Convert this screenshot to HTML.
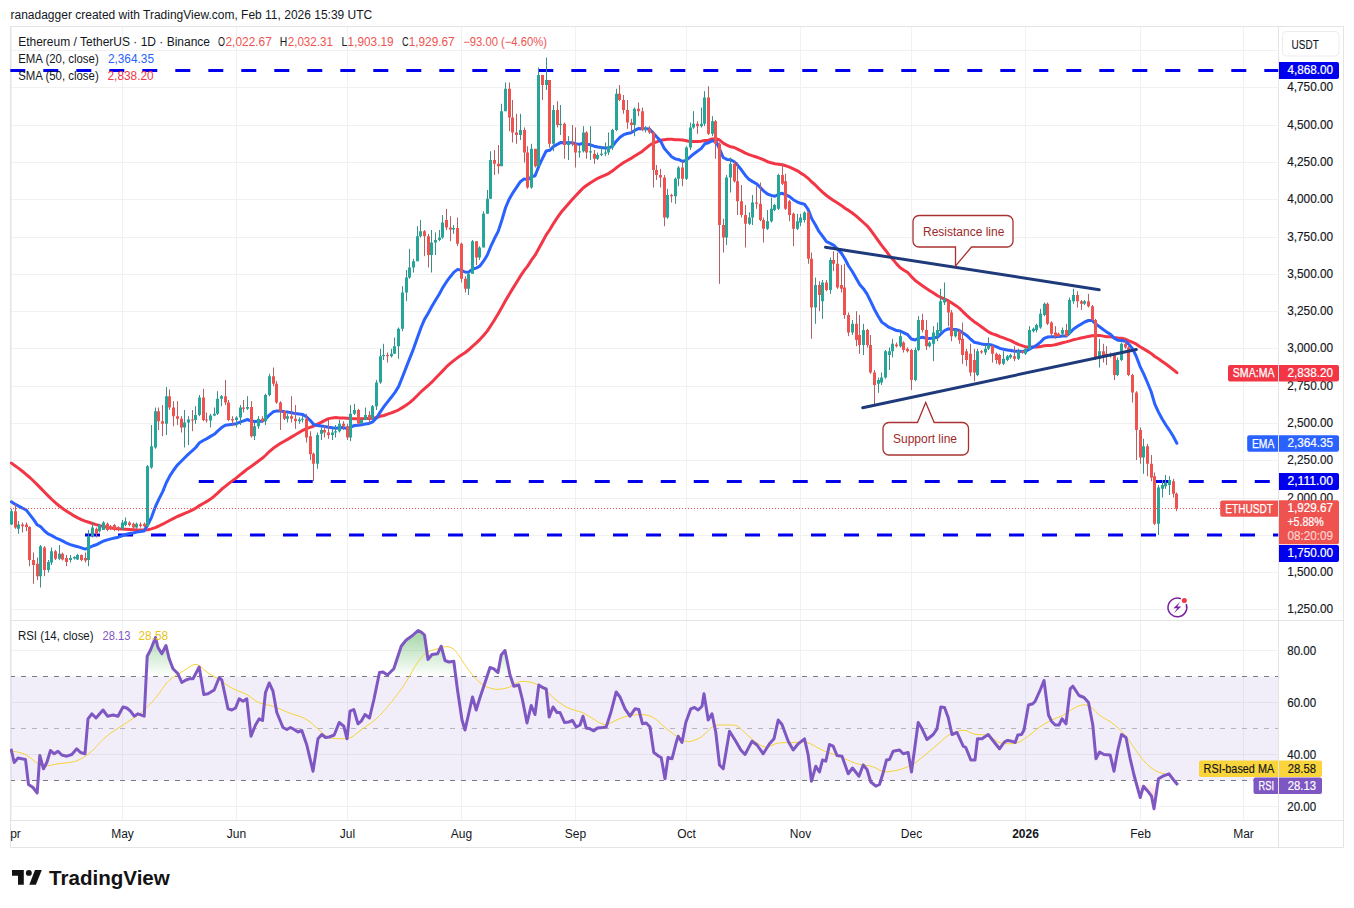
<!DOCTYPE html>
<html><head><meta charset="utf-8"><style>
html,body{margin:0;padding:0;background:#fff;width:1354px;height:908px;overflow:hidden}
svg{display:block}
text{font-family:"Liberation Sans", sans-serif}
</style></head><body>
<svg width="1354" height="908" viewBox="0 0 1354 908">
<defs>
<clipPath id="cp"><rect x="10" y="27" width="1268.5" height="593"/></clipPath>
<clipPath id="cr"><rect x="10" y="621" width="1268.5" height="199"/></clipPath>
<linearGradient id="gob" gradientUnits="userSpaceOnUse" x1="0" y1="624" x2="0" y2="676.5"><stop offset="0" stop-color="#4caf50" stop-opacity="0.6"/><stop offset="1" stop-color="#4caf50" stop-opacity="0"/></linearGradient>
<linearGradient id="gos" gradientUnits="userSpaceOnUse" x1="0" y1="780.5" x2="0" y2="820"><stop offset="0" stop-color="#f23645" stop-opacity="0"/><stop offset="1" stop-color="#f23645" stop-opacity="0.5"/></linearGradient>
<clipPath id="cax"><rect x="10.5" y="821" width="1268" height="27"/></clipPath>
</defs>
<rect width="1354" height="908" fill="#fff"/>

<text x="10.5" y="19" font-size="12" fill="#131722">ranadagger created with TradingView.com, Feb 11, 2026 15:39 UTC</text>
<path d="M11.5 27V820 M122.5 27V820 M236.5 27V820 M347.5 27V820 M461.5 27V820 M575.5 27V820 M686.5 27V820 M800.5 27V820 M911.5 27V820 M1025.5 27V820 M1140.5 27V820 M1243.5 27V820 M10 609.5H1278.5 M10 572.5H1278.5 M10 535.5H1278.5 M10 498.5H1278.5 M10 460.5H1278.5 M10 423.5H1278.5 M10 386.5H1278.5 M10 348.5H1278.5 M10 311.5H1278.5 M10 274.5H1278.5 M10 237.5H1278.5 M10 199.5H1278.5 M10 162.5H1278.5 M10 125.5H1278.5 M10 87.5H1278.5 M10 50.5H1278.5 M10 650.5H1278.5 M10 702.5H1278.5 M10 754.5H1278.5 M10 806.5H1278.5" stroke="#f1f1f1" stroke-width="1" fill="none"/>
<rect x="10" y="676.50" width="1268.5" height="104.00" fill="#7e57c2" fill-opacity="0.1"/>
<path d="M10 676.5H1278.5" stroke="#787b86" stroke-opacity="1" stroke-width="1" stroke-dasharray="5 6" fill="none"/>
<path d="M10 728.5H1278.5" stroke="#787b86" stroke-opacity="0.5" stroke-width="1" stroke-dasharray="5 6" fill="none"/>
<path d="M10 780.5H1278.5" stroke="#787b86" stroke-opacity="1" stroke-width="1" stroke-dasharray="5 6" fill="none"/>
<path d="M10.5 26.5H1343.5V847.5H10.5Z" stroke="#e4e4e4" stroke-width="1" fill="none"/>
<path d="M10 620.5H1343M10 820.5H1343M1278.5 27V847" stroke="#e4e4e4" stroke-width="1" fill="none"/>
<g clip-path="url(#cp)">
<path d="M10.3 70.5H1278.5" stroke="#0000ee" stroke-width="3" stroke-dasharray="15 18" fill="none"/>
<path d="M198.75 481.5H1278.5" stroke="#0000ee" stroke-width="3" stroke-dasharray="15 18" fill="none"/>
<path d="M85 535H1278.5" stroke="#0000ee" stroke-width="3" stroke-dasharray="15 18" fill="none"/>
<path d="M11.4 463.1 L15.0 465.7 L18.7 468.4 L22.4 471.3 L26.1 474.3 L29.8 477.5 L33.5 481.0 L37.2 484.6 L40.9 488.4 L44.6 492.2 L48.2 495.9 L51.9 499.5 L55.6 502.9 L59.3 506.0 L63.0 508.7 L66.7 511.2 L70.4 513.6 L74.1 515.9 L77.8 517.9 L81.4 519.7 L85.1 521.1 L88.8 522.3 L92.5 523.5 L96.2 524.6 L99.9 525.6 L103.6 526.5 L107.3 527.3 L110.9 527.9 L114.6 528.4 L118.3 528.8 L122.0 529.1 L125.7 529.3 L129.4 529.5 L133.1 529.7 L136.8 529.9 L140.5 530.0 L144.1 530.0 L147.8 529.7 L151.5 528.9 L155.2 527.6 L158.9 526.0 L162.6 524.2 L166.3 522.2 L170.0 520.2 L173.7 518.3 L177.3 516.5 L181.0 515.0 L184.7 513.4 L188.4 511.8 L192.1 510.1 L195.8 508.2 L199.5 505.6 L203.2 503.5 L206.9 501.4 L210.5 499.1 L214.2 496.2 L217.9 492.9 L221.6 489.3 L225.3 486.4 L229.0 483.4 L232.7 480.6 L236.4 477.9 L240.0 474.9 L243.7 472.0 L247.4 468.9 L251.1 466.4 L254.8 463.8 L258.5 461.0 L262.2 458.3 L265.9 455.0 L269.6 451.3 L273.2 448.3 L276.9 445.8 L280.6 443.3 L284.3 441.2 L288.0 439.1 L291.7 436.9 L295.4 434.7 L299.1 432.5 L302.8 430.3 L306.4 428.6 L310.1 427.3 L313.8 426.0 L317.5 424.2 L321.2 422.3 L324.9 420.4 L328.6 418.6 L332.3 417.9 L335.9 417.6 L339.6 417.9 L343.3 418.0 L347.0 418.3 L350.7 418.6 L354.4 418.7 L358.1 418.8 L361.8 418.8 L365.5 418.6 L369.1 418.5 L372.8 418.2 L376.5 417.5 L380.2 416.3 L383.9 415.5 L387.6 414.2 L391.3 412.9 L395.0 411.5 L398.7 409.8 L402.3 407.6 L406.0 405.3 L409.7 402.6 L413.4 399.4 L417.1 395.7 L420.8 392.0 L424.5 388.6 L428.2 385.5 L431.8 382.2 L435.5 378.3 L439.2 374.5 L442.9 370.6 L446.6 366.7 L450.3 363.4 L454.0 360.4 L457.7 357.6 L461.4 355.1 L465.0 352.7 L468.7 349.8 L472.4 346.3 L476.1 343.1 L479.8 339.6 L483.5 335.5 L487.2 331.1 L490.9 325.5 L494.6 319.7 L498.2 313.8 L501.9 307.3 L505.6 300.5 L509.3 294.2 L513.0 288.1 L516.7 282.2 L520.4 276.1 L524.1 270.7 L527.8 265.9 L531.4 260.2 L535.1 255.2 L538.8 248.5 L542.5 241.8 L546.2 234.9 L549.9 229.5 L553.6 223.3 L557.3 217.7 L560.9 212.6 L564.6 208.3 L568.3 204.1 L572.0 199.8 L575.7 195.8 L579.4 191.9 L583.1 188.0 L586.8 185.2 L590.5 182.7 L594.1 180.5 L597.8 178.3 L601.5 176.7 L605.2 175.1 L608.9 173.3 L612.6 170.8 L616.3 167.8 L620.0 165.1 L623.7 162.5 L627.3 160.5 L631.0 158.4 L634.7 156.0 L638.4 153.7 L642.1 151.4 L645.8 148.4 L649.5 145.3 L653.2 143.2 L656.8 141.9 L660.5 140.3 L664.2 139.7 L667.9 139.3 L671.6 139.3 L675.3 139.7 L679.0 139.7 L682.7 140.0 L686.4 140.7 L690.0 141.5 L693.7 141.6 L697.4 141.5 L701.1 141.2 L704.8 140.6 L708.5 140.2 L712.2 138.9 L715.9 138.8 L719.6 140.0 L723.2 143.2 L726.9 145.1 L730.6 146.8 L734.3 147.5 L738.0 149.3 L741.7 151.1 L745.4 153.1 L749.1 154.6 L752.7 155.8 L756.4 157.0 L760.1 158.3 L763.8 159.9 L767.5 161.7 L771.2 162.8 L774.9 163.8 L778.6 164.2 L782.3 164.8 L785.9 165.8 L789.6 167.1 L793.3 168.8 L797.0 170.6 L800.7 173.1 L804.4 175.3 L808.1 178.3 L811.8 182.0 L815.5 185.2 L819.1 188.9 L822.8 192.3 L826.5 195.5 L830.2 198.2 L833.9 200.8 L837.6 203.1 L841.3 205.4 L845.0 208.2 L848.6 210.4 L852.3 213.0 L856.0 215.9 L859.7 219.2 L863.4 222.5 L867.1 225.8 L870.8 230.3 L874.5 235.4 L878.2 240.6 L881.8 245.6 L885.5 250.2 L889.2 255.2 L892.9 259.4 L896.6 263.9 L900.3 267.8 L904.0 270.3 L907.7 272.6 L911.4 276.6 L915.0 280.3 L918.7 283.1 L922.4 285.7 L926.1 288.3 L929.8 290.7 L933.5 293.0 L937.2 295.5 L940.9 297.5 L944.6 299.1 L948.2 300.7 L951.9 303.0 L955.6 305.4 L959.3 308.1 L963.0 311.8 L966.7 315.3 L970.4 318.6 L974.1 321.7 L977.7 324.1 L981.4 326.8 L985.1 329.4 L988.8 332.1 L992.5 333.9 L996.2 335.0 L999.9 336.6 L1003.6 337.9 L1007.3 339.3 L1010.9 340.6 L1014.6 342.6 L1018.3 344.4 L1022.0 345.6 L1025.7 346.9 L1029.4 347.1 L1033.1 347.1 L1036.8 347.1 L1040.5 346.6 L1044.1 345.8 L1047.8 345.6 L1051.5 345.4 L1055.2 344.7 L1058.9 343.7 L1062.6 342.7 L1066.3 341.9 L1070.0 340.9 L1073.6 339.7 L1077.3 338.9 L1081.0 338.0 L1084.7 337.3 L1088.4 336.4 L1092.1 335.8 L1095.8 335.4 L1099.5 335.4 L1103.2 336.1 L1106.8 336.7 L1110.5 336.8 L1114.2 337.5 L1117.9 338.0 L1121.6 338.3 L1125.3 339.2 L1129.0 340.8 L1132.7 342.4 L1136.4 344.2 L1140.0 346.8 L1143.7 348.9 L1147.4 351.1 L1151.1 353.4 L1154.8 356.5 L1158.5 358.8 L1162.2 361.4 L1165.9 364.0 L1169.5 366.7 L1173.2 369.6 L1176.9 372.7" stroke="#f23645" stroke-width="3" fill="none" stroke-linejoin="round" stroke-linecap="round"/>
<path d="M11.4 501.8 L15.0 504.2 L18.7 506.1 L22.4 508.1 L26.1 509.9 L29.8 514.6 L33.5 519.4 L37.2 524.8 L40.9 526.9 L44.6 531.0 L48.2 533.9 L51.9 535.6 L55.6 537.8 L59.3 539.3 L63.0 541.2 L66.7 543.2 L70.4 544.6 L74.1 545.8 L77.8 546.7 L81.4 547.9 L85.1 549.1 L88.8 547.9 L92.5 546.0 L96.2 544.8 L99.9 542.9 L103.6 541.0 L107.3 539.9 L110.9 538.9 L114.6 538.0 L118.3 537.2 L122.0 535.8 L125.7 534.4 L129.4 533.5 L133.1 533.0 L136.8 532.1 L140.5 531.5 L144.1 531.0 L147.8 524.8 L151.5 517.3 L155.2 507.2 L158.9 499.1 L162.6 491.9 L166.3 482.8 L170.0 475.6 L173.7 470.0 L177.3 465.1 L181.0 461.5 L184.7 457.8 L188.4 454.1 L192.1 450.9 L195.8 447.5 L199.5 442.7 L203.2 440.5 L206.9 438.6 L210.5 436.4 L214.2 434.3 L217.9 430.9 L221.6 427.6 L225.3 425.2 L229.0 424.7 L232.7 424.3 L236.4 423.7 L240.0 422.1 L243.7 420.8 L247.4 419.5 L251.1 421.1 L254.8 421.6 L258.5 421.3 L262.2 421.3 L265.9 418.8 L269.6 414.8 L273.2 411.8 L276.9 410.9 L280.6 411.0 L284.3 411.7 L288.0 412.1 L291.7 412.8 L295.4 413.6 L299.1 414.1 L302.8 414.6 L306.4 416.8 L310.1 420.3 L313.8 424.5 L317.5 425.5 L321.2 425.9 L324.9 426.5 L328.6 427.3 L332.3 427.8 L335.9 428.2 L339.6 427.7 L343.3 427.6 L347.0 428.5 L350.7 427.1 L354.4 425.5 L358.1 425.3 L361.8 424.8 L365.5 423.9 L369.1 423.4 L372.8 421.8 L376.5 418.0 L380.2 412.1 L383.9 406.7 L387.6 401.9 L391.3 397.3 L395.0 392.4 L398.7 386.4 L402.3 377.4 L406.0 367.9 L409.7 358.4 L413.4 349.1 L417.1 338.4 L420.8 328.2 L424.5 319.4 L428.2 313.3 L431.8 306.5 L435.5 300.2 L439.2 294.2 L442.9 287.4 L446.6 281.7 L450.3 276.7 L454.0 272.1 L457.7 269.4 L461.4 270.3 L465.0 272.0 L468.7 272.2 L472.4 269.2 L476.1 268.1 L479.8 266.2 L483.5 261.2 L487.2 255.2 L490.9 246.2 L494.6 238.3 L498.2 231.4 L501.9 220.0 L505.6 207.5 L509.3 198.9 L513.0 192.6 L516.7 187.1 L520.4 181.7 L524.1 178.9 L527.8 179.7 L531.4 176.8 L535.1 175.8 L538.8 166.2 L542.5 158.4 L546.2 151.0 L549.9 150.3 L553.6 146.4 L557.3 144.4 L560.9 142.4 L564.6 142.7 L568.3 142.7 L572.0 142.8 L575.7 143.7 L579.4 144.4 L583.1 143.3 L586.8 144.2 L590.5 144.8 L594.1 146.2 L597.8 147.0 L601.5 147.6 L605.2 148.1 L608.9 147.9 L612.6 146.2 L616.3 141.2 L620.0 137.3 L623.7 134.7 L627.3 133.5 L631.0 132.7 L634.7 130.4 L638.4 128.6 L642.1 128.7 L645.8 128.7 L649.5 129.1 L653.2 133.0 L656.8 137.0 L660.5 140.9 L664.2 148.2 L667.9 152.6 L671.6 156.8 L675.3 158.9 L679.0 159.7 L682.7 161.5 L686.4 160.2 L690.0 157.1 L693.7 153.9 L697.4 151.3 L701.1 148.6 L704.8 143.8 L708.5 142.8 L712.2 140.8 L715.9 141.0 L719.6 149.0 L723.2 157.5 L726.9 159.4 L730.6 159.8 L734.3 161.8 L738.0 165.6 L741.7 170.3 L745.4 175.4 L749.1 179.4 L752.7 181.6 L756.4 183.7 L760.1 187.2 L763.8 191.1 L767.5 194.0 L771.2 195.4 L774.9 196.3 L778.6 194.3 L782.3 193.3 L785.9 194.8 L789.6 196.7 L793.3 199.7 L797.0 201.8 L800.7 203.3 L804.4 204.2 L808.1 209.4 L811.8 218.7 L815.5 225.0 L819.1 231.7 L822.8 236.5 L826.5 241.6 L830.2 243.4 L833.9 245.3 L837.6 249.3 L841.3 253.1 L845.0 259.0 L848.6 266.0 L852.3 271.5 L856.0 278.0 L859.7 284.4 L863.4 288.7 L867.1 294.1 L870.8 301.6 L874.5 309.5 L878.2 316.2 L881.8 322.1 L885.5 324.8 L889.2 327.4 L892.9 328.9 L896.6 330.6 L900.3 331.1 L904.0 332.9 L907.7 334.7 L911.4 339.0 L915.0 340.0 L918.7 338.1 L922.4 337.3 L926.1 338.2 L929.8 338.6 L933.5 338.0 L937.2 337.3 L940.9 333.8 L944.6 330.5 L948.2 328.8 L951.9 329.5 L955.6 329.5 L959.3 330.5 L963.0 332.9 L966.7 335.4 L970.4 339.0 L974.1 342.2 L977.7 343.0 L981.4 343.9 L985.1 344.4 L988.8 344.5 L992.5 345.3 L996.2 346.7 L999.9 348.4 L1003.6 349.3 L1007.3 350.0 L1010.9 350.5 L1014.6 351.3 L1018.3 351.3 L1022.0 351.4 L1025.7 351.1 L1029.4 349.1 L1033.1 347.2 L1036.8 345.1 L1040.5 342.1 L1044.1 338.4 L1047.8 337.0 L1051.5 336.7 L1055.2 336.7 L1058.9 336.6 L1062.6 336.0 L1066.3 336.0 L1070.0 332.6 L1073.6 329.0 L1077.3 326.4 L1081.0 324.2 L1084.7 322.0 L1088.4 320.5 L1092.1 320.5 L1095.8 324.1 L1099.5 326.7 L1103.2 329.5 L1106.8 332.1 L1110.5 334.2 L1114.2 338.1 L1117.9 340.2 L1121.6 340.5 L1125.3 341.2 L1129.0 344.4 L1132.7 349.0 L1136.4 356.7 L1140.0 366.3 L1143.7 373.9 L1147.4 382.5 L1151.1 391.5 L1154.8 404.1 L1158.5 412.1 L1162.2 419.0 L1165.9 425.0 L1169.5 430.3 L1173.2 436.3 L1176.9 443.2" stroke="#2962ff" stroke-width="3" fill="none" stroke-linejoin="round" stroke-linecap="round"/>
<path d="M11.5 508.8V525.0 M18.5 521.2V533.8 M40.5 545.0V587.5 M48.5 560.0V572.5 M51.5 547.5V565.0 M59.5 545.0V560.0 M70.5 555.0V562.5 M74.5 556.2V559.5 M77.5 553.8V560.0 M88.5 530.0V566.2 M92.5 522.5V537.5 M99.5 523.8V532.5 M103.5 521.2V530.0 M122.5 520.0V530.0 M125.5 517.5V526.2 M136.5 522.5V528.8 M147.5 465.0V527.5 M151.5 425.0V468.8 M155.5 407.5V448.8 M166.5 387.0V435.0 M184.5 410.0V447.5 M188.5 416.2V445.0 M195.5 406.2V423.8 M199.5 395.0V416.2 M210.5 413.8V427.5 M214.5 407.5V416.2 M217.5 391.2V415.0 M221.5 395.0V406.2 M236.5 416.2V427.5 M240.5 405.0V425.0 M247.5 396.2V410.0 M254.5 422.5V440.0 M258.5 416.2V428.8 M265.5 393.8V425.0 M269.5 373.8V396.2 M287.5 413.8V422.5 M299.5 417.5V423.8 M302.5 416.2V422.5 M317.5 432.5V468.8 M321.5 427.5V440.0 M332.5 428.8V440.0 M335.5 425.0V437.5 M339.5 420.0V432.5 M350.5 405.0V441.2 M354.5 403.8V415.0 M361.5 418.8V423.8 M365.5 407.5V420.0 M372.5 405.0V420.0 M376.5 380.0V410.0 M380.5 348.8V383.8 M383.5 343.8V360.0 M391.5 348.8V357.5 M394.5 337.5V353.8 M398.5 327.5V358.8 M402.5 286.2V331.2 M406.5 270.0V301.2 M409.5 248.8V278.8 M413.5 258.8V272.5 M417.5 226.2V261.2 M420.5 220.0V237.5 M431.5 230.0V272.5 M435.5 232.5V255.0 M439.5 230.0V241.2 M442.5 215.0V238.8 M453.5 225.0V233.8 M468.5 272.5V295.0 M472.5 240.0V273.8 M479.5 246.2V260.0 M483.5 211.2V247.5 M487.5 190.0V213.8 M490.5 151.2V198.8 M501.5 103.8V166.2 M505.5 82.5V111.2 M520.5 113.8V140.0 M531.5 143.8V188.8 M538.5 67.5V166.2 M546.5 57.5V90.0 M553.5 105.0V151.2 M560.5 105.0V135.0 M568.5 136.2V160.0 M579.5 145.0V157.5 M583.5 126.2V152.5 M590.5 126.2V160.0 M597.5 152.5V160.0 M601.5 146.2V156.2 M605.5 142.5V156.2 M608.5 132.5V155.0 M612.5 128.8V150.0 M616.5 88.8V131.2 M634.5 107.5V136.2 M645.5 126.2V132.5 M667.5 188.8V218.8 M675.5 177.5V203.8 M678.5 166.2V186.2 M686.5 146.2V180.0 M690.5 122.5V150.0 M693.5 111.2V128.8 M701.5 107.5V127.5 M704.5 91.2V126.2 M712.5 116.2V136.2 M726.5 175.0V245.0 M730.5 157.5V192.5 M749.5 212.5V225.0 M752.5 195.0V225.0 M767.5 210.0V230.0 M771.5 197.5V222.5 M774.5 203.8V211.2 M778.5 173.8V210.0 M797.5 213.8V230.0 M800.5 213.8V226.2 M804.5 211.2V222.5 M815.5 277.5V323.8 M822.5 280.0V318.8 M830.5 257.5V293.8 M852.5 320.0V335.0 M863.5 323.8V355.0 M878.5 377.5V392.8 M881.5 372.5V385.0 M885.5 350.0V378.8 M889.5 347.5V370.0 M892.5 338.8V357.5 M900.5 332.5V347.5 M915.5 347.5V381.2 M918.5 316.2V351.2 M929.5 341.2V347.5 M933.5 326.2V361.2 M937.5 322.5V341.2 M940.5 288.8V332.5 M944.5 282.5V305.0 M955.5 328.8V337.5 M977.5 348.8V376.2 M985.5 343.8V355.0 M988.5 337.5V350.0 M1003.5 351.2V365.0 M1007.5 355.0V361.2 M1010.5 353.8V358.8 M1018.5 348.8V360.0 M1025.5 347.5V355.0 M1029.5 326.2V350.0 M1033.5 327.5V332.5 M1036.5 323.8V332.5 M1040.5 308.8V328.8 M1044.5 302.5V316.2 M1062.5 327.5V336.2 M1069.5 297.5V335.0 M1073.5 288.8V303.8 M1084.5 300.0V305.0 M1099.5 338.8V367.5 M1110.5 352.5V357.5 M1117.5 357.5V376.2 M1121.5 342.5V361.2 M1143.5 438.8V473.8 M1158.5 485.0V535.0 M1162.5 480.0V497.5 M1165.5 475.0V488.8 M1169.5 476.2V495.0" stroke="#3a8f86" stroke-width="1" fill="none"/>
<path d="M15.5 504.2V528.8 M22.5 522.5V532.5 M26.5 522.5V531.2 M29.5 526.2V566.2 M33.5 552.5V583.8 M37.5 557.5V580.0 M44.5 546.2V576.2 M55.5 550.0V560.0 M62.5 552.5V560.5 M66.5 555.0V566.2 M81.5 554.5V561.2 M85.5 552.5V562.5 M96.5 527.5V537.5 M107.5 522.5V531.2 M110.5 525.0V530.0 M114.5 523.8V531.2 M118.5 526.2V531.2 M129.5 521.2V526.2 M133.5 522.5V528.8 M140.5 522.5V527.5 M144.5 522.5V527.5 M158.5 407.5V430.0 M162.5 405.0V436.2 M169.5 389.5V410.0 M173.5 401.2V426.2 M177.5 401.2V425.0 M181.5 416.2V432.5 M192.5 410.0V431.2 M203.5 388.8V421.2 M206.5 412.5V422.5 M225.5 380.0V405.0 M228.5 400.0V421.2 M232.5 416.2V426.2 M243.5 400.0V412.5 M251.5 401.2V437.5 M262.5 416.2V422.5 M273.5 367.5V386.2 M276.5 381.2V403.8 M280.5 401.2V430.0 M284.5 410.0V420.0 M291.5 396.2V422.5 M295.5 405.0V428.8 M306.5 413.8V442.5 M310.5 431.2V460.0 M313.5 452.5V481.2 M324.5 425.0V437.5 M328.5 420.0V438.8 M343.5 421.2V430.0 M347.5 423.8V440.0 M358.5 408.8V425.0 M369.5 411.2V422.5 M387.5 352.5V362.5 M424.5 230.0V256.2 M428.5 233.8V267.5 M446.5 208.8V230.0 M450.5 216.2V241.2 M457.5 217.5V246.2 M461.5 242.5V282.5 M465.5 276.2V292.5 M476.5 241.2V265.0 M494.5 150.0V175.0 M498.5 145.0V173.8 M509.5 82.5V131.2 M512.5 100.0V142.5 M516.5 113.8V143.8 M524.5 127.5V162.5 M527.5 146.2V188.8 M535.5 148.8V167.5 M542.5 75.0V100.0 M549.5 80.0V147.5 M557.5 101.2V127.5 M564.5 122.5V158.8 M572.5 125.0V146.2 M575.5 127.5V167.5 M586.5 131.2V158.8 M594.5 150.0V163.8 M619.5 85.0V101.2 M623.5 95.0V113.8 M627.5 100.0V128.8 M631.5 118.8V132.5 M638.5 102.5V116.2 M642.5 107.5V131.2 M649.5 126.2V133.8 M653.5 131.2V187.5 M656.5 165.0V180.0 M660.5 168.8V187.5 M664.5 175.0V226.2 M671.5 193.8V202.5 M682.5 161.2V186.2 M697.5 121.2V133.8 M708.5 86.2V135.0 M715.5 120.0V158.8 M719.5 142.5V283.8 M723.5 218.8V252.5 M734.5 161.2V182.5 M737.5 162.5V215.0 M741.5 185.0V217.5 M745.5 205.0V247.5 M756.5 186.2V208.8 M760.5 182.5V221.2 M763.5 217.5V242.5 M782.5 163.8V185.0 M785.5 173.8V210.0 M789.5 200.0V221.2 M793.5 212.5V246.2 M808.5 211.2V263.8 M811.5 252.5V338.8 M819.5 281.2V311.2 M826.5 280.0V291.2 M833.5 251.2V271.2 M837.5 252.5V288.8 M841.5 265.0V292.5 M844.5 263.8V318.8 M848.5 312.5V336.2 M856.5 311.2V346.2 M859.5 315.0V353.8 M867.5 328.8V347.5 M870.5 335.0V373.8 M874.5 370.0V406.0 M896.5 342.5V347.5 M903.5 341.2V352.5 M907.5 347.5V352.5 M911.5 348.8V390.0 M922.5 313.8V332.5 M926.5 320.0V350.0 M948.5 300.0V326.2 M951.5 310.0V341.2 M959.5 328.8V343.8 M962.5 322.5V363.8 M966.5 348.8V366.2 M970.5 343.8V376.2 M974.5 348.8V381.2 M981.5 350.0V353.8 M992.5 345.0V362.5 M996.5 352.5V363.8 M999.5 353.8V365.0 M1014.5 346.2V361.2 M1022.5 350.0V353.8 M1047.5 302.5V325.0 M1051.5 321.2V336.2 M1055.5 326.2V338.8 M1058.5 332.5V337.5 M1066.5 323.8V337.5 M1077.5 291.2V307.5 M1081.5 300.0V310.0 M1088.5 293.8V307.5 M1092.5 305.0V321.2 M1095.5 318.8V360.0 M1103.5 343.8V362.5 M1106.5 346.2V365.0 M1114.5 353.8V380.0 M1125.5 341.2V348.8 M1128.5 346.2V376.2 M1132.5 373.8V402.5 M1136.5 391.2V460.0 M1140.5 427.5V463.8 M1147.5 443.8V476.2 M1151.5 455.0V481.2 M1154.5 472.5V525.0 M1173.5 478.8V497.5 M1176.5 492.5V511.2" stroke="#b35f66" stroke-width="1" fill="none"/>
<path d="M10.0 511.2h3v13.2h-3Z M17.0 524.5h3v4.2h-3Z M39.0 546.2h3v30.0h-3Z M47.0 562.0h3v8.0h-3Z M50.0 551.2h3v11.2h-3Z M58.0 553.8h3v5.0h-3Z M69.0 558.0h3v2.0h-3Z M73.0 557.0h3v1.5h-3Z M76.0 555.0h3v4.5h-3Z M87.0 536.2h3v23.8h-3Z M91.0 527.5h3v8.8h-3Z M98.0 525.0h3v6.2h-3Z M102.0 522.5h3v7.5h-3Z M121.0 522.5h3v6.2h-3Z M124.0 521.2h3v3.8h-3Z M135.0 523.8h3v3.8h-3Z M146.0 466.2h3v60.0h-3Z M150.0 446.2h3v21.2h-3Z M154.0 411.2h3v36.2h-3Z M165.0 396.2h3v27.5h-3Z M183.0 422.5h3v5.0h-3Z M187.0 419.5h3v3.0h-3Z M194.0 415.0h3v5.0h-3Z M198.0 397.5h3v17.5h-3Z M209.0 415.5h3v5.0h-3Z M213.0 413.8h3v1.8h-3Z M216.0 398.8h3v15.0h-3Z M220.0 396.2h3v2.5h-3Z M235.0 417.5h3v2.5h-3Z M239.0 407.5h3v10.0h-3Z M246.0 407.0h3v1.8h-3Z M253.0 426.2h3v10.0h-3Z M257.0 418.8h3v7.5h-3Z M264.0 395.0h3v26.2h-3Z M268.0 376.2h3v18.8h-3Z M286.0 416.2h3v2.5h-3Z M298.0 419.5h3v1.8h-3Z M301.0 418.8h3v1.0h-3Z M316.0 435.0h3v28.8h-3Z M320.0 430.0h3v3.8h-3Z M331.0 432.5h3v2.5h-3Z M334.0 431.2h3v1.2h-3Z M338.0 423.8h3v7.5h-3Z M349.0 413.8h3v23.8h-3Z M353.0 410.0h3v3.8h-3Z M360.0 420.0h3v3.8h-3Z M364.0 415.0h3v5.0h-3Z M371.0 406.2h3v12.5h-3Z M375.0 382.5h3v23.8h-3Z M379.0 356.2h3v26.2h-3Z M382.0 355.0h3v1.2h-3Z M390.0 353.8h3v2.5h-3Z M393.0 346.2h3v7.5h-3Z M397.0 328.8h3v17.5h-3Z M401.0 292.5h3v36.2h-3Z M405.0 277.5h3v15.0h-3Z M408.0 267.5h3v10.0h-3Z M412.0 261.2h3v6.2h-3Z M416.0 236.2h3v25.0h-3Z M419.0 231.2h3v5.0h-3Z M430.0 242.5h3v12.5h-3Z M434.0 240.0h3v2.5h-3Z M438.0 237.5h3v2.5h-3Z M441.0 222.5h3v15.0h-3Z M452.0 228.0h3v1.5h-3Z M467.0 273.8h3v15.0h-3Z M471.0 241.2h3v32.5h-3Z M478.0 247.5h3v10.0h-3Z M482.0 213.8h3v33.8h-3Z M486.0 198.8h3v15.0h-3Z M489.0 160.0h3v38.8h-3Z M500.0 111.2h3v55.0h-3Z M504.0 88.8h3v22.5h-3Z M519.0 130.0h3v5.0h-3Z M530.0 148.8h3v38.8h-3Z M537.0 75.0h3v91.2h-3Z M545.0 80.0h3v5.0h-3Z M552.0 110.0h3v33.8h-3Z M559.0 123.8h3v1.2h-3Z M567.0 142.5h3v2.5h-3Z M578.0 151.2h3v1.2h-3Z M582.0 132.5h3v18.8h-3Z M589.0 151.2h3v1.2h-3Z M596.0 155.0h3v3.8h-3Z M600.0 153.8h3v1.2h-3Z M604.0 152.5h3v1.2h-3Z M607.0 146.2h3v6.2h-3Z M611.0 130.0h3v17.5h-3Z M615.0 93.8h3v36.2h-3Z M633.0 108.8h3v16.2h-3Z M644.0 128.8h3v1.2h-3Z M666.0 195.0h3v22.5h-3Z M674.0 178.8h3v17.5h-3Z M677.0 167.5h3v11.2h-3Z M685.0 147.5h3v31.2h-3Z M689.0 127.5h3v20.0h-3Z M692.0 123.8h3v3.8h-3Z M700.0 123.8h3v2.5h-3Z M703.0 97.5h3v26.2h-3Z M711.0 121.2h3v12.5h-3Z M725.0 177.5h3v60.0h-3Z M729.0 163.8h3v13.8h-3Z M748.0 217.5h3v6.2h-3Z M751.0 202.5h3v15.0h-3Z M766.0 221.2h3v7.5h-3Z M770.0 208.8h3v12.5h-3Z M773.0 205.0h3v5.0h-3Z M777.0 175.0h3v33.8h-3Z M796.0 221.2h3v7.5h-3Z M799.0 217.5h3v5.0h-3Z M803.0 212.5h3v7.5h-3Z M814.0 285.0h3v22.5h-3Z M821.0 282.5h3v18.8h-3Z M829.0 260.0h3v30.0h-3Z M851.0 323.8h3v8.8h-3Z M862.0 330.0h3v15.0h-3Z M877.0 380.0h3v3.8h-3Z M880.0 377.5h3v5.0h-3Z M884.0 351.2h3v26.2h-3Z M888.0 351.2h3v3.8h-3Z M891.0 343.8h3v7.5h-3Z M899.0 336.2h3v10.0h-3Z M914.0 350.0h3v30.0h-3Z M917.0 320.0h3v30.0h-3Z M928.0 342.5h3v3.8h-3Z M932.0 332.5h3v11.2h-3Z M936.0 330.0h3v6.2h-3Z M939.0 301.2h3v30.0h-3Z M943.0 298.8h3v3.8h-3Z M954.0 330.0h3v6.2h-3Z M976.0 351.2h3v23.8h-3Z M984.0 348.8h3v3.8h-3Z M987.0 345.0h3v3.8h-3Z M1002.0 358.8h3v5.0h-3Z M1006.0 356.2h3v3.8h-3Z M1009.0 355.0h3v2.5h-3Z M1017.0 351.2h3v7.5h-3Z M1024.0 348.8h3v5.0h-3Z M1028.0 330.0h3v18.8h-3Z M1032.0 328.8h3v2.5h-3Z M1035.0 325.0h3v5.0h-3Z M1039.0 313.8h3v13.8h-3Z M1043.0 303.8h3v11.2h-3Z M1061.0 330.0h3v3.8h-3Z M1068.0 300.0h3v33.8h-3Z M1072.0 295.0h3v6.2h-3Z M1083.0 301.2h3v2.5h-3Z M1098.0 351.2h3v7.5h-3Z M1109.0 354.5h3v1.8h-3Z M1116.0 360.0h3v15.0h-3Z M1120.0 343.8h3v16.2h-3Z M1142.0 446.2h3v11.2h-3Z M1157.0 487.5h3v36.2h-3Z M1161.0 485.0h3v3.8h-3Z M1164.0 482.5h3v3.8h-3Z M1168.0 480.0h3v5.0h-3Z" fill="#26a69a"/>
<path d="M14.0 511.2h3v16.2h-3Z M21.0 524.5h3v1.8h-3Z M25.0 524.5h3v2.5h-3Z M28.0 527.0h3v33.0h-3Z M32.0 560.0h3v5.0h-3Z M36.0 563.8h3v12.5h-3Z M43.0 547.5h3v22.5h-3Z M54.0 551.2h3v7.5h-3Z M61.0 553.8h3v5.8h-3Z M65.0 558.0h3v4.0h-3Z M80.0 555.0h3v5.0h-3Z M84.0 558.0h3v2.5h-3Z M95.0 528.8h3v5.0h-3Z M106.0 523.8h3v6.2h-3Z M109.0 526.2h3v2.5h-3Z M113.0 525.0h3v5.0h-3Z M117.0 527.5h3v2.0h-3Z M128.0 522.5h3v2.5h-3Z M132.0 523.8h3v3.8h-3Z M139.0 524.5h3v1.5h-3Z M143.0 523.8h3v2.5h-3Z M157.0 411.2h3v10.0h-3Z M161.0 421.2h3v2.5h-3Z M168.0 396.2h3v11.2h-3Z M172.0 407.5h3v8.8h-3Z M176.0 416.2h3v2.5h-3Z M180.0 418.8h3v8.8h-3Z M191.0 419.5h3v1.0h-3Z M202.0 397.5h3v22.5h-3Z M205.0 419.5h3v1.0h-3Z M224.0 396.2h3v6.2h-3Z M227.0 402.5h3v17.5h-3Z M231.0 419.0h3v1.5h-3Z M242.0 407.5h3v1.2h-3Z M250.0 407.0h3v29.2h-3Z M261.0 418.8h3v2.5h-3Z M272.0 376.2h3v7.5h-3Z M275.0 383.8h3v18.8h-3Z M279.0 402.5h3v8.8h-3Z M283.0 411.2h3v7.5h-3Z M290.0 416.2h3v2.5h-3Z M294.0 418.8h3v2.5h-3Z M305.0 418.8h3v18.8h-3Z M309.0 436.2h3v18.0h-3Z M312.0 453.8h3v10.0h-3Z M323.0 430.0h3v2.5h-3Z M327.0 432.5h3v2.5h-3Z M342.0 423.8h3v2.5h-3Z M346.0 426.2h3v11.2h-3Z M357.0 410.0h3v13.8h-3Z M368.0 415.0h3v3.8h-3Z M386.0 355.0h3v1.2h-3Z M423.0 231.2h3v5.0h-3Z M427.0 236.2h3v18.8h-3Z M445.0 220.0h3v7.5h-3Z M449.0 227.5h3v2.0h-3Z M456.0 228.0h3v15.8h-3Z M460.0 243.8h3v35.0h-3Z M464.0 278.8h3v10.0h-3Z M475.0 241.2h3v16.2h-3Z M493.0 160.0h3v3.8h-3Z M497.0 163.8h3v2.5h-3Z M508.0 88.8h3v28.8h-3Z M511.0 117.5h3v15.0h-3Z M515.0 132.5h3v2.5h-3Z M523.0 130.0h3v22.5h-3Z M526.0 152.5h3v35.0h-3Z M534.0 148.8h3v17.5h-3Z M541.0 75.0h3v10.0h-3Z M548.0 80.0h3v63.8h-3Z M556.0 110.0h3v15.0h-3Z M563.0 123.8h3v21.2h-3Z M571.0 142.5h3v1.2h-3Z M574.0 143.8h3v8.8h-3Z M585.0 132.5h3v20.0h-3Z M593.0 153.8h3v5.0h-3Z M618.0 93.8h3v6.2h-3Z M622.0 100.0h3v10.0h-3Z M626.0 110.0h3v12.5h-3Z M630.0 122.5h3v2.5h-3Z M637.0 108.8h3v2.5h-3Z M641.0 111.2h3v18.8h-3Z M648.0 128.8h3v3.8h-3Z M652.0 132.5h3v37.5h-3Z M655.0 170.0h3v5.0h-3Z M659.0 175.0h3v2.5h-3Z M663.0 177.5h3v40.0h-3Z M670.0 195.0h3v1.2h-3Z M681.0 167.5h3v11.2h-3Z M696.0 123.8h3v2.5h-3Z M707.0 97.5h3v36.2h-3Z M714.0 121.2h3v22.5h-3Z M718.0 143.8h3v81.2h-3Z M722.0 225.0h3v12.5h-3Z M733.0 163.8h3v17.5h-3Z M736.0 181.2h3v20.0h-3Z M740.0 201.2h3v13.8h-3Z M744.0 215.0h3v8.8h-3Z M755.0 202.5h3v1.2h-3Z M759.0 203.8h3v16.2h-3Z M762.0 220.0h3v8.8h-3Z M781.0 175.0h3v8.8h-3Z M784.0 181.2h3v27.5h-3Z M788.0 201.2h3v13.8h-3Z M792.0 213.8h3v15.0h-3Z M807.0 212.5h3v46.2h-3Z M810.0 258.8h3v48.8h-3Z M818.0 285.0h3v10.0h-3Z M825.0 282.5h3v7.5h-3Z M832.0 260.0h3v3.8h-3Z M836.0 263.8h3v23.8h-3Z M840.0 285.0h3v3.8h-3Z M843.0 287.5h3v27.5h-3Z M847.0 315.0h3v17.5h-3Z M855.0 323.8h3v16.2h-3Z M858.0 335.0h3v10.0h-3Z M866.0 330.0h3v15.0h-3Z M869.0 345.0h3v27.5h-3Z M873.0 372.5h3v12.5h-3Z M895.0 344.5h3v1.8h-3Z M902.0 342.5h3v7.5h-3Z M906.0 348.8h3v2.5h-3Z M910.0 350.0h3v30.0h-3Z M921.0 320.0h3v10.0h-3Z M925.0 330.0h3v16.2h-3Z M947.0 301.2h3v11.2h-3Z M950.0 312.5h3v23.8h-3Z M958.0 331.2h3v8.8h-3Z M961.0 338.8h3v16.2h-3Z M965.0 351.2h3v8.8h-3Z M969.0 353.8h3v18.8h-3Z M973.0 360.0h3v12.5h-3Z M980.0 351.2h3v1.2h-3Z M991.0 346.2h3v7.5h-3Z M995.0 353.8h3v6.2h-3Z M998.0 355.0h3v8.8h-3Z M1013.0 356.2h3v2.5h-3Z M1021.0 351.2h3v1.2h-3Z M1046.0 303.8h3v20.0h-3Z M1050.0 322.5h3v11.2h-3Z M1054.0 332.5h3v3.8h-3Z M1057.0 333.8h3v2.5h-3Z M1065.0 330.0h3v6.2h-3Z M1076.0 295.0h3v6.2h-3Z M1080.0 301.2h3v2.5h-3Z M1087.0 301.2h3v5.0h-3Z M1091.0 306.2h3v13.8h-3Z M1094.0 320.0h3v38.8h-3Z M1102.0 351.2h3v5.0h-3Z M1105.0 353.8h3v2.5h-3Z M1113.0 355.0h3v20.0h-3Z M1124.0 343.8h3v3.8h-3Z M1127.0 347.5h3v27.5h-3Z M1131.0 375.0h3v17.5h-3Z M1135.0 392.5h3v37.5h-3Z M1139.0 430.0h3v27.5h-3Z M1146.0 446.2h3v17.5h-3Z M1150.0 463.8h3v13.8h-3Z M1153.0 476.2h3v47.5h-3Z M1172.0 481.2h3v12.5h-3Z M1175.0 493.8h3v15.0h-3Z" fill="#ef5350"/>
<path d="M825.5 247.2L1099.2 289.7M862.7 407.7L1136.3 349.5" stroke="#1e3a7b" stroke-width="3" stroke-linecap="round" fill="none"/>
<path d="M10 508.5H1278.5" stroke="#ef5350" stroke-width="1" stroke-dasharray="1 2" fill="none"/>
</g>
<path d="M919 215.5H1007a6 6 0 0 1 6 6V241a6 6 0 0 1 -6 6H971.5L955.5 266V247H919a6 6 0 0 1 -6 -6V221.5a6 6 0 0 1 6 -6Z" fill="#fff" stroke="#a83232" stroke-width="1.3"/>
<text x="923" y="235.5" font-size="12" fill="#9c2b2b">Resistance line</text>
<path d="M889 422.5H917.5L925.7 402.5L934.2 422.5H962.5a6 6 0 0 1 6 6V449a6 6 0 0 1 -6 6H889a6 6 0 0 1 -6 -6V428.5a6 6 0 0 1 6 -6Z" fill="#fff" stroke="#a83232" stroke-width="1.3"/>
<text x="893" y="443" font-size="12" fill="#9c2b2b">Support line</text>
<g clip-path="url(#cr)">
<clipPath id="cob"><rect x="10" y="600" width="1270" height="76.5"/></clipPath>
<clipPath id="cos"><rect x="10" y="780.5" width="1270" height="59.5"/></clipPath>
<path clip-path="url(#cob)" d="M11.0 676.5 L11.0 748.8 L14.2 762.5 L18.0 758.0 L25.5 759.5 L28.5 784.5 L33.0 787.5 L37.2 793.0 L39.8 755.5 L43.5 768.8 L46.8 762.5 L50.5 750.5 L54.2 753.8 L58.0 751.2 L61.8 755.0 L66.8 756.2 L71.8 754.5 L76.8 748.8 L80.5 752.5 L85.0 753.8 L88.0 718.8 L91.8 713.8 L96.0 718.0 L103.0 710.0 L107.5 716.2 L113.0 715.0 L118.0 716.2 L123.0 707.0 L126.8 708.0 L130.5 711.2 L134.2 716.2 L138.0 713.8 L144.2 716.2 L147.2 656.2 L150.5 650.0 L155.5 637.5 L158.0 647.5 L161.8 653.8 L166.0 645.5 L169.2 658.8 L173.0 668.8 L178.0 673.8 L181.8 682.5 L186.0 680.0 L189.2 678.8 L193.0 678.8 L199.2 667.0 L203.8 694.5 L208.0 693.8 L214.2 690.0 L219.2 677.5 L221.8 680.0 L228.0 708.8 L231.8 710.0 L235.5 708.0 L239.2 698.8 L243.0 701.2 L246.8 698.8 L251.0 736.2 L255.5 725.0 L259.2 718.8 L262.5 720.5 L265.5 692.5 L269.2 683.0 L273.0 691.2 L276.8 712.5 L283.0 727.5 L286.8 729.5 L290.5 727.5 L294.2 729.5 L298.0 732.0 L301.8 730.5 L306.8 745.0 L313.0 771.2 L318.0 738.8 L321.8 734.5 L325.5 737.5 L329.2 737.0 L334.2 735.0 L339.2 722.5 L343.8 726.2 L347.0 738.8 L350.0 711.2 L353.8 709.5 L358.0 723.8 L361.2 721.2 L365.0 714.5 L369.5 718.0 L373.8 700.0 L379.5 672.5 L383.0 672.0 L387.5 675.0 L393.8 668.8 L401.2 646.2 L406.2 640.0 L412.5 635.5 L418.0 630.5 L421.2 632.0 L424.5 635.0 L428.0 659.5 L432.0 654.5 L437.5 653.8 L441.2 646.2 L445.0 660.5 L448.8 662.0 L453.8 661.2 L457.5 690.0 L462.0 720.0 L465.0 730.0 L472.5 697.0 L476.2 710.0 L480.0 697.5 L483.8 686.2 L490.0 667.5 L493.8 668.8 L498.0 672.5 L501.2 655.0 L505.0 650.5 L510.0 675.0 L513.8 686.2 L518.8 685.0 L522.5 700.0 L527.0 723.0 L531.2 705.5 L535.0 714.5 L538.8 685.0 L542.5 687.5 L546.2 688.8 L549.2 717.0 L553.0 707.0 L557.0 712.5 L560.0 712.5 L564.5 722.5 L568.8 722.0 L572.5 720.5 L576.2 727.0 L580.0 725.0 L583.0 716.2 L586.2 728.0 L590.0 728.8 L593.8 730.8 L597.5 728.0 L602.5 727.5 L606.2 727.0 L611.2 711.2 L616.2 692.0 L620.0 697.0 L625.0 708.8 L630.0 716.2 L635.0 708.8 L638.8 709.5 L642.5 723.8 L646.2 723.0 L650.0 727.0 L653.8 752.5 L658.8 756.2 L661.2 757.5 L665.0 778.8 L668.0 757.5 L672.0 758.8 L676.2 742.5 L678.2 736.2 L682.0 742.5 L685.8 722.5 L690.8 708.8 L694.5 707.5 L698.2 710.0 L702.0 706.2 L704.0 693.8 L708.2 720.0 L712.0 713.8 L715.8 732.5 L719.5 765.0 L723.2 768.8 L729.5 731.2 L735.8 741.2 L740.8 750.0 L745.0 754.5 L752.0 741.2 L757.0 745.0 L763.2 753.8 L769.5 743.8 L774.0 738.8 L778.2 720.0 L782.0 724.5 L788.2 741.2 L793.2 750.0 L798.2 743.8 L804.5 738.8 L808.2 755.0 L811.5 781.2 L815.8 766.2 L819.5 772.0 L822.5 760.0 L825.8 761.2 L829.5 744.5 L833.2 746.2 L837.0 755.5 L842.0 756.2 L848.2 773.8 L852.5 768.0 L859.0 776.2 L863.2 765.0 L867.0 769.5 L870.8 782.0 L875.8 786.2 L879.5 784.5 L883.2 772.5 L886.5 760.0 L889.5 759.5 L893.2 751.2 L899.5 750.0 L903.2 753.8 L908.2 752.5 L911.5 772.0 L918.2 722.5 L922.0 728.8 L927.0 739.5 L933.2 734.5 L937.0 728.8 L940.8 707.0 L944.5 707.5 L948.2 717.5 L952.0 734.5 L957.0 732.5 L963.2 746.2 L965.8 747.5 L970.8 760.0 L975.0 760.0 L977.5 738.8 L982.0 738.8 L988.2 734.5 L994.5 742.5 L999.5 748.8 L1004.0 742.5 L1005.8 741.2 L1007.8 740.5 L1011.5 741.2 L1015.2 742.5 L1017.8 735.0 L1021.5 734.5 L1024.0 730.0 L1028.5 705.0 L1032.8 703.8 L1035.2 701.2 L1040.2 690.0 L1044.0 680.5 L1048.5 715.0 L1051.5 721.2 L1055.2 725.0 L1059.0 725.0 L1062.0 718.8 L1066.0 723.8 L1070.2 688.8 L1072.8 686.2 L1079.0 695.5 L1084.0 697.5 L1088.5 702.5 L1092.8 725.0 L1096.0 758.8 L1099.5 752.0 L1104.0 754.5 L1110.2 755.0 L1114.0 771.2 L1117.8 750.0 L1121.5 734.5 L1126.0 737.5 L1130.2 758.8 L1134.0 775.0 L1140.2 797.5 L1143.5 786.2 L1147.8 791.2 L1151.5 796.2 L1154.0 808.8 L1158.5 778.8 L1162.8 776.2 L1169.0 773.8 L1173.2 779.5 L1177.8 785.0 L1177.8 676.5Z" fill="url(#gob)"/>
<path clip-path="url(#cos)" d="M11.0 780.5 L11.0 748.8 L14.2 762.5 L18.0 758.0 L25.5 759.5 L28.5 784.5 L33.0 787.5 L37.2 793.0 L39.8 755.5 L43.5 768.8 L46.8 762.5 L50.5 750.5 L54.2 753.8 L58.0 751.2 L61.8 755.0 L66.8 756.2 L71.8 754.5 L76.8 748.8 L80.5 752.5 L85.0 753.8 L88.0 718.8 L91.8 713.8 L96.0 718.0 L103.0 710.0 L107.5 716.2 L113.0 715.0 L118.0 716.2 L123.0 707.0 L126.8 708.0 L130.5 711.2 L134.2 716.2 L138.0 713.8 L144.2 716.2 L147.2 656.2 L150.5 650.0 L155.5 637.5 L158.0 647.5 L161.8 653.8 L166.0 645.5 L169.2 658.8 L173.0 668.8 L178.0 673.8 L181.8 682.5 L186.0 680.0 L189.2 678.8 L193.0 678.8 L199.2 667.0 L203.8 694.5 L208.0 693.8 L214.2 690.0 L219.2 677.5 L221.8 680.0 L228.0 708.8 L231.8 710.0 L235.5 708.0 L239.2 698.8 L243.0 701.2 L246.8 698.8 L251.0 736.2 L255.5 725.0 L259.2 718.8 L262.5 720.5 L265.5 692.5 L269.2 683.0 L273.0 691.2 L276.8 712.5 L283.0 727.5 L286.8 729.5 L290.5 727.5 L294.2 729.5 L298.0 732.0 L301.8 730.5 L306.8 745.0 L313.0 771.2 L318.0 738.8 L321.8 734.5 L325.5 737.5 L329.2 737.0 L334.2 735.0 L339.2 722.5 L343.8 726.2 L347.0 738.8 L350.0 711.2 L353.8 709.5 L358.0 723.8 L361.2 721.2 L365.0 714.5 L369.5 718.0 L373.8 700.0 L379.5 672.5 L383.0 672.0 L387.5 675.0 L393.8 668.8 L401.2 646.2 L406.2 640.0 L412.5 635.5 L418.0 630.5 L421.2 632.0 L424.5 635.0 L428.0 659.5 L432.0 654.5 L437.5 653.8 L441.2 646.2 L445.0 660.5 L448.8 662.0 L453.8 661.2 L457.5 690.0 L462.0 720.0 L465.0 730.0 L472.5 697.0 L476.2 710.0 L480.0 697.5 L483.8 686.2 L490.0 667.5 L493.8 668.8 L498.0 672.5 L501.2 655.0 L505.0 650.5 L510.0 675.0 L513.8 686.2 L518.8 685.0 L522.5 700.0 L527.0 723.0 L531.2 705.5 L535.0 714.5 L538.8 685.0 L542.5 687.5 L546.2 688.8 L549.2 717.0 L553.0 707.0 L557.0 712.5 L560.0 712.5 L564.5 722.5 L568.8 722.0 L572.5 720.5 L576.2 727.0 L580.0 725.0 L583.0 716.2 L586.2 728.0 L590.0 728.8 L593.8 730.8 L597.5 728.0 L602.5 727.5 L606.2 727.0 L611.2 711.2 L616.2 692.0 L620.0 697.0 L625.0 708.8 L630.0 716.2 L635.0 708.8 L638.8 709.5 L642.5 723.8 L646.2 723.0 L650.0 727.0 L653.8 752.5 L658.8 756.2 L661.2 757.5 L665.0 778.8 L668.0 757.5 L672.0 758.8 L676.2 742.5 L678.2 736.2 L682.0 742.5 L685.8 722.5 L690.8 708.8 L694.5 707.5 L698.2 710.0 L702.0 706.2 L704.0 693.8 L708.2 720.0 L712.0 713.8 L715.8 732.5 L719.5 765.0 L723.2 768.8 L729.5 731.2 L735.8 741.2 L740.8 750.0 L745.0 754.5 L752.0 741.2 L757.0 745.0 L763.2 753.8 L769.5 743.8 L774.0 738.8 L778.2 720.0 L782.0 724.5 L788.2 741.2 L793.2 750.0 L798.2 743.8 L804.5 738.8 L808.2 755.0 L811.5 781.2 L815.8 766.2 L819.5 772.0 L822.5 760.0 L825.8 761.2 L829.5 744.5 L833.2 746.2 L837.0 755.5 L842.0 756.2 L848.2 773.8 L852.5 768.0 L859.0 776.2 L863.2 765.0 L867.0 769.5 L870.8 782.0 L875.8 786.2 L879.5 784.5 L883.2 772.5 L886.5 760.0 L889.5 759.5 L893.2 751.2 L899.5 750.0 L903.2 753.8 L908.2 752.5 L911.5 772.0 L918.2 722.5 L922.0 728.8 L927.0 739.5 L933.2 734.5 L937.0 728.8 L940.8 707.0 L944.5 707.5 L948.2 717.5 L952.0 734.5 L957.0 732.5 L963.2 746.2 L965.8 747.5 L970.8 760.0 L975.0 760.0 L977.5 738.8 L982.0 738.8 L988.2 734.5 L994.5 742.5 L999.5 748.8 L1004.0 742.5 L1005.8 741.2 L1007.8 740.5 L1011.5 741.2 L1015.2 742.5 L1017.8 735.0 L1021.5 734.5 L1024.0 730.0 L1028.5 705.0 L1032.8 703.8 L1035.2 701.2 L1040.2 690.0 L1044.0 680.5 L1048.5 715.0 L1051.5 721.2 L1055.2 725.0 L1059.0 725.0 L1062.0 718.8 L1066.0 723.8 L1070.2 688.8 L1072.8 686.2 L1079.0 695.5 L1084.0 697.5 L1088.5 702.5 L1092.8 725.0 L1096.0 758.8 L1099.5 752.0 L1104.0 754.5 L1110.2 755.0 L1114.0 771.2 L1117.8 750.0 L1121.5 734.5 L1126.0 737.5 L1130.2 758.8 L1134.0 775.0 L1140.2 797.5 L1143.5 786.2 L1147.8 791.2 L1151.5 796.2 L1154.0 808.8 L1158.5 778.8 L1162.8 776.2 L1169.0 773.8 L1173.2 779.5 L1177.8 785.0 L1177.8 780.5Z" fill="url(#gos)"/>
<path d="M11.0 751.31 L12.0 751.36 L13.0 751.43 L14.0 751.52 L15.0 751.63 L16.0 751.77 L17.0 751.94 L18.0 752.14 L19.0 752.36 L20.0 752.59 L21.0 752.86 L22.0 753.16 L23.0 753.51 L24.0 753.92 L25.0 754.39 L26.0 754.93 L27.0 755.53 L28.0 756.19 L29.0 756.89 L30.0 757.63 L31.0 758.40 L32.0 759.19 L33.0 759.99 L34.0 760.79 L35.0 761.57 L36.0 762.33 L37.0 763.06 L38.0 763.74 L39.0 764.35 L40.0 764.88 L41.0 765.30 L42.0 765.62 L43.0 765.84 L44.0 765.96 L45.0 765.99 L46.0 765.94 L47.0 765.83 L48.0 765.68 L49.0 765.51 L50.0 765.32 L51.0 765.13 L52.0 764.92 L53.0 764.72 L54.0 764.51 L55.0 764.32 L56.0 764.14 L57.0 763.97 L58.0 763.81 L59.0 763.67 L60.0 763.54 L61.0 763.42 L62.0 763.31 L63.0 763.21 L64.0 763.11 L65.0 763.01 L66.0 762.91 L67.0 762.80 L68.0 762.69 L69.0 762.57 L70.0 762.43 L71.0 762.27 L72.0 762.09 L73.0 761.87 L74.0 761.62 L75.0 761.33 L76.0 761.00 L77.0 760.63 L78.0 760.22 L79.0 759.77 L80.0 759.29 L81.0 758.78 L82.0 758.24 L83.0 757.67 L84.0 757.08 L85.0 756.45 L86.0 755.78 L87.0 755.08 L88.0 754.33 L89.0 753.54 L90.0 752.71 L91.0 751.82 L92.0 750.89 L93.0 749.93 L94.0 748.93 L95.0 747.91 L96.0 746.88 L97.0 745.82 L98.0 744.77 L99.0 743.71 L100.0 742.66 L101.0 741.62 L102.0 740.60 L103.0 739.60 L104.0 738.64 L105.0 737.71 L106.0 736.81 L107.0 735.96 L108.0 735.13 L109.0 734.35 L110.0 733.59 L111.0 732.87 L112.0 732.17 L113.0 731.49 L114.0 730.82 L115.0 730.17 L116.0 729.52 L117.0 728.87 L118.0 728.23 L119.0 727.59 L120.0 726.94 L121.0 726.30 L122.0 725.65 L123.0 725.00 L124.0 724.35 L125.0 723.70 L126.0 723.05 L127.0 722.40 L128.0 721.76 L129.0 721.11 L130.0 720.47 L131.0 719.83 L132.0 719.18 L133.0 718.53 L134.0 717.87 L135.0 717.20 L136.0 716.51 L137.0 715.81 L138.0 715.09 L139.0 714.35 L140.0 713.59 L141.0 712.80 L142.0 711.98 L143.0 711.13 L144.0 710.25 L145.0 709.34 L146.0 708.39 L147.0 707.41 L148.0 706.40 L149.0 705.36 L150.0 704.28 L151.0 703.19 L152.0 702.06 L153.0 700.92 L154.0 699.76 L155.0 698.58 L156.0 697.36 L157.0 696.10 L158.0 694.80 L159.0 693.46 L160.0 692.08 L161.0 690.68 L162.0 689.26 L163.0 687.85 L164.0 686.46 L165.0 685.14 L166.0 683.88 L167.0 682.71 L168.0 681.63 L169.0 680.63 L170.0 679.72 L171.0 678.89 L172.0 678.12 L173.0 677.39 L174.0 676.70 L175.0 676.04 L176.0 675.41 L177.0 674.79 L178.0 674.18 L179.0 673.59 L180.0 672.99 L181.0 672.39 L182.0 671.78 L183.0 671.16 L184.0 670.51 L185.0 669.85 L186.0 669.18 L187.0 668.51 L188.0 667.83 L189.0 667.17 L190.0 666.54 L191.0 665.95 L192.0 665.43 L193.0 664.98 L194.0 664.65 L195.0 664.46 L196.0 664.43 L197.0 664.59 L198.0 664.93 L199.0 665.44 L200.0 666.10 L201.0 666.89 L202.0 667.76 L203.0 668.67 L204.0 669.59 L205.0 670.47 L206.0 671.31 L207.0 672.09 L208.0 672.80 L209.0 673.46 L210.0 674.07 L211.0 674.67 L212.0 675.25 L213.0 675.83 L214.0 676.41 L215.0 677.00 L216.0 677.59 L217.0 678.20 L218.0 678.83 L219.0 679.47 L220.0 680.13 L221.0 680.80 L222.0 681.49 L223.0 682.19 L224.0 682.89 L225.0 683.60 L226.0 684.29 L227.0 684.98 L228.0 685.65 L229.0 686.30 L230.0 686.93 L231.0 687.52 L232.0 688.09 L233.0 688.62 L234.0 689.12 L235.0 689.60 L236.0 690.04 L237.0 690.46 L238.0 690.86 L239.0 691.25 L240.0 691.63 L241.0 692.01 L242.0 692.40 L243.0 692.79 L244.0 693.21 L245.0 693.65 L246.0 694.14 L247.0 694.67 L248.0 695.26 L249.0 695.91 L250.0 696.61 L251.0 697.35 L252.0 698.11 L253.0 698.90 L254.0 699.66 L255.0 700.38 L256.0 701.05 L257.0 701.65 L258.0 702.19 L259.0 702.65 L260.0 703.05 L261.0 703.38 L262.0 703.67 L263.0 703.93 L264.0 704.16 L265.0 704.39 L266.0 704.61 L267.0 704.82 L268.0 705.04 L269.0 705.27 L270.0 705.51 L271.0 705.77 L272.0 706.04 L273.0 706.35 L274.0 706.67 L275.0 707.02 L276.0 707.39 L277.0 707.78 L278.0 708.18 L279.0 708.60 L280.0 709.04 L281.0 709.47 L282.0 709.92 L283.0 710.36 L284.0 710.79 L285.0 711.22 L286.0 711.64 L287.0 712.05 L288.0 712.44 L289.0 712.81 L290.0 713.18 L291.0 713.52 L292.0 713.86 L293.0 714.19 L294.0 714.51 L295.0 714.83 L296.0 715.14 L297.0 715.47 L298.0 715.80 L299.0 716.14 L300.0 716.50 L301.0 716.87 L302.0 717.27 L303.0 717.69 L304.0 718.16 L305.0 718.66 L306.0 719.22 L307.0 719.82 L308.0 720.47 L309.0 721.18 L310.0 721.94 L311.0 722.74 L312.0 723.58 L313.0 724.46 L314.0 725.35 L315.0 726.26 L316.0 727.18 L317.0 728.09 L318.0 729.00 L319.0 729.93 L320.0 730.87 L321.0 731.81 L322.0 732.74 L323.0 733.64 L324.0 734.48 L325.0 735.24 L326.0 735.94 L327.0 736.54 L328.0 737.05 L329.0 737.46 L330.0 737.78 L331.0 738.02 L332.0 738.19 L333.0 738.33 L334.0 738.45 L335.0 738.54 L336.0 738.61 L337.0 738.66 L338.0 738.70 L339.0 738.73 L340.0 738.74 L341.0 738.75 L342.0 738.75 L343.0 738.75 L344.0 738.75 L345.0 738.73 L346.0 738.67 L347.0 738.57 L348.0 738.40 L349.0 738.16 L350.0 737.83 L351.0 737.42 L352.0 736.91 L353.0 736.31 L354.0 735.63 L355.0 734.88 L356.0 734.09 L357.0 733.27 L358.0 732.44 L359.0 731.61 L360.0 730.80 L361.0 730.01 L362.0 729.25 L363.0 728.51 L364.0 727.80 L365.0 727.11 L366.0 726.44 L367.0 725.77 L368.0 725.09 L369.0 724.41 L370.0 723.72 L371.0 723.00 L372.0 722.26 L373.0 721.50 L374.0 720.70 L375.0 719.86 L376.0 718.99 L377.0 718.08 L378.0 717.13 L379.0 716.15 L380.0 715.13 L381.0 714.08 L382.0 713.00 L383.0 711.90 L384.0 710.77 L385.0 709.63 L386.0 708.47 L387.0 707.30 L388.0 706.12 L389.0 704.93 L390.0 703.72 L391.0 702.51 L392.0 701.28 L393.0 700.04 L394.0 698.78 L395.0 697.51 L396.0 696.22 L397.0 694.92 L398.0 693.59 L399.0 692.24 L400.0 690.87 L401.0 689.47 L402.0 688.05 L403.0 686.59 L404.0 685.09 L405.0 683.55 L406.0 681.95 L407.0 680.31 L408.0 678.62 L409.0 676.90 L410.0 675.14 L411.0 673.37 L412.0 671.61 L413.0 669.88 L414.0 668.19 L415.0 666.55 L416.0 664.96 L417.0 663.43 L418.0 661.95 L419.0 660.54 L420.0 659.20 L421.0 657.94 L422.0 656.77 L423.0 655.69 L424.0 654.72 L425.0 653.85 L426.0 653.09 L427.0 652.44 L428.0 651.88 L429.0 651.41 L430.0 651.00 L431.0 650.64 L432.0 650.32 L433.0 650.01 L434.0 649.71 L435.0 649.42 L436.0 649.14 L437.0 648.84 L438.0 648.55 L439.0 648.25 L440.0 647.95 L441.0 647.66 L442.0 647.37 L443.0 647.11 L444.0 646.89 L445.0 646.72 L446.0 646.63 L447.0 646.63 L448.0 646.73 L449.0 646.93 L450.0 647.23 L451.0 647.64 L452.0 648.16 L453.0 648.82 L454.0 649.63 L455.0 650.58 L456.0 651.68 L457.0 652.90 L458.0 654.23 L459.0 655.65 L460.0 657.14 L461.0 658.69 L462.0 660.26 L463.0 661.83 L464.0 663.37 L465.0 664.87 L466.0 666.32 L467.0 667.74 L468.0 669.13 L469.0 670.47 L470.0 671.78 L471.0 673.04 L472.0 674.27 L473.0 675.45 L474.0 676.60 L475.0 677.71 L476.0 678.78 L477.0 679.81 L478.0 680.81 L479.0 681.76 L480.0 682.65 L481.0 683.47 L482.0 684.22 L483.0 684.89 L484.0 685.50 L485.0 686.04 L486.0 686.53 L487.0 686.97 L488.0 687.36 L489.0 687.71 L490.0 688.03 L491.0 688.33 L492.0 688.59 L493.0 688.82 L494.0 689.01 L495.0 689.16 L496.0 689.27 L497.0 689.32 L498.0 689.34 L499.0 689.31 L500.0 689.23 L501.0 689.12 L502.0 688.97 L503.0 688.79 L504.0 688.59 L505.0 688.36 L506.0 688.11 L507.0 687.84 L508.0 687.52 L509.0 687.14 L510.0 686.71 L511.0 686.22 L512.0 685.68 L513.0 685.09 L514.0 684.47 L515.0 683.85 L516.0 683.25 L517.0 682.73 L518.0 682.28 L519.0 681.92 L520.0 681.66 L521.0 681.50 L522.0 681.42 L523.0 681.41 L524.0 681.46 L525.0 681.53 L526.0 681.63 L527.0 681.73 L528.0 681.85 L529.0 681.99 L530.0 682.14 L531.0 682.33 L532.0 682.56 L533.0 682.83 L534.0 683.16 L535.0 683.54 L536.0 683.99 L537.0 684.50 L538.0 685.07 L539.0 685.70 L540.0 686.37 L541.0 687.06 L542.0 687.78 L543.0 688.53 L544.0 689.30 L545.0 690.09 L546.0 690.91 L547.0 691.76 L548.0 692.63 L549.0 693.53 L550.0 694.45 L551.0 695.39 L552.0 696.33 L553.0 697.26 L554.0 698.17 L555.0 699.06 L556.0 699.90 L557.0 700.72 L558.0 701.50 L559.0 702.25 L560.0 702.96 L561.0 703.65 L562.0 704.31 L563.0 704.95 L564.0 705.57 L565.0 706.16 L566.0 706.72 L567.0 707.24 L568.0 707.74 L569.0 708.19 L570.0 708.62 L571.0 709.00 L572.0 709.36 L573.0 709.69 L574.0 709.99 L575.0 710.28 L576.0 710.56 L577.0 710.83 L578.0 711.11 L579.0 711.41 L580.0 711.73 L581.0 712.08 L582.0 712.46 L583.0 712.89 L584.0 713.35 L585.0 713.86 L586.0 714.41 L587.0 714.99 L588.0 715.59 L589.0 716.22 L590.0 716.86 L591.0 717.49 L592.0 718.13 L593.0 718.76 L594.0 719.39 L595.0 720.02 L596.0 720.65 L597.0 721.27 L598.0 721.87 L599.0 722.45 L600.0 723.00 L601.0 723.49 L602.0 723.90 L603.0 724.22 L604.0 724.42 L605.0 724.51 L606.0 724.49 L607.0 724.34 L608.0 724.09 L609.0 723.75 L610.0 723.33 L611.0 722.85 L612.0 722.35 L613.0 721.82 L614.0 721.30 L615.0 720.79 L616.0 720.30 L617.0 719.83 L618.0 719.38 L619.0 718.96 L620.0 718.55 L621.0 718.17 L622.0 717.80 L623.0 717.44 L624.0 717.10 L625.0 716.78 L626.0 716.49 L627.0 716.22 L628.0 715.98 L629.0 715.77 L630.0 715.59 L631.0 715.42 L632.0 715.28 L633.0 715.16 L634.0 715.05 L635.0 714.95 L636.0 714.86 L637.0 714.77 L638.0 714.70 L639.0 714.65 L640.0 714.61 L641.0 714.60 L642.0 714.62 L643.0 714.67 L644.0 714.76 L645.0 714.89 L646.0 715.07 L647.0 715.28 L648.0 715.54 L649.0 715.83 L650.0 716.16 L651.0 716.55 L652.0 716.99 L653.0 717.50 L654.0 718.07 L655.0 718.72 L656.0 719.43 L657.0 720.21 L658.0 721.05 L659.0 721.95 L660.0 722.87 L661.0 723.80 L662.0 724.72 L663.0 725.63 L664.0 726.52 L665.0 727.39 L666.0 728.24 L667.0 729.06 L668.0 729.86 L669.0 730.65 L670.0 731.42 L671.0 732.19 L672.0 732.94 L673.0 733.69 L674.0 734.41 L675.0 735.12 L676.0 735.81 L677.0 736.50 L678.0 737.19 L679.0 737.86 L680.0 738.52 L681.0 739.16 L682.0 739.75 L683.0 740.29 L684.0 740.75 L685.0 741.12 L686.0 741.40 L687.0 741.57 L688.0 741.64 L689.0 741.61 L690.0 741.49 L691.0 741.29 L692.0 741.04 L693.0 740.74 L694.0 740.39 L695.0 740.02 L696.0 739.62 L697.0 739.20 L698.0 738.74 L699.0 738.24 L700.0 737.68 L701.0 737.05 L702.0 736.35 L703.0 735.57 L704.0 734.72 L705.0 733.80 L706.0 732.81 L707.0 731.78 L708.0 730.74 L709.0 729.72 L710.0 728.76 L711.0 727.88 L712.0 727.13 L713.0 726.50 L714.0 725.99 L715.0 725.61 L716.0 725.33 L717.0 725.15 L718.0 725.05 L719.0 725.01 L720.0 725.00 L721.0 725.00 L722.0 725.00 L723.0 725.00 L724.0 725.00 L725.0 725.00 L726.0 725.00 L727.0 725.00 L728.0 725.00 L729.0 725.00 L730.0 725.00 L731.0 725.00 L732.0 725.00 L733.0 725.03 L734.0 725.11 L735.0 725.28 L736.0 725.56 L737.0 725.95 L738.0 726.47 L739.0 727.12 L740.0 727.90 L741.0 728.81 L742.0 729.80 L743.0 730.82 L744.0 731.85 L745.0 732.86 L746.0 733.84 L747.0 734.79 L748.0 735.70 L749.0 736.57 L750.0 737.42 L751.0 738.24 L752.0 739.05 L753.0 739.87 L754.0 740.68 L755.0 741.47 L756.0 742.25 L757.0 742.99 L758.0 743.70 L759.0 744.36 L760.0 744.97 L761.0 745.51 L762.0 746.00 L763.0 746.40 L764.0 746.72 L765.0 746.93 L766.0 747.02 L767.0 746.99 L768.0 746.84 L769.0 746.58 L770.0 746.22 L771.0 745.79 L772.0 745.31 L773.0 744.82 L774.0 744.37 L775.0 743.96 L776.0 743.61 L777.0 743.33 L778.0 743.11 L779.0 742.97 L780.0 742.87 L781.0 742.82 L782.0 742.78 L783.0 742.75 L784.0 742.72 L785.0 742.69 L786.0 742.66 L787.0 742.64 L788.0 742.61 L789.0 742.58 L790.0 742.55 L791.0 742.52 L792.0 742.48 L793.0 742.44 L794.0 742.40 L795.0 742.36 L796.0 742.31 L797.0 742.26 L798.0 742.21 L799.0 742.17 L800.0 742.13 L801.0 742.10 L802.0 742.08 L803.0 742.09 L804.0 742.14 L805.0 742.24 L806.0 742.38 L807.0 742.59 L808.0 742.85 L809.0 743.18 L810.0 743.57 L811.0 744.02 L812.0 744.51 L813.0 745.04 L814.0 745.59 L815.0 746.16 L816.0 746.74 L817.0 747.32 L818.0 747.88 L819.0 748.42 L820.0 748.94 L821.0 749.43 L822.0 749.90 L823.0 750.35 L824.0 750.77 L825.0 751.18 L826.0 751.57 L827.0 751.95 L828.0 752.33 L829.0 752.71 L830.0 753.08 L831.0 753.44 L832.0 753.81 L833.0 754.17 L834.0 754.54 L835.0 754.90 L836.0 755.27 L837.0 755.63 L838.0 756.00 L839.0 756.38 L840.0 756.76 L841.0 757.15 L842.0 757.54 L843.0 757.95 L844.0 758.37 L845.0 758.80 L846.0 759.24 L847.0 759.69 L848.0 760.14 L849.0 760.59 L850.0 761.04 L851.0 761.48 L852.0 761.91 L853.0 762.32 L854.0 762.72 L855.0 763.09 L856.0 763.43 L857.0 763.74 L858.0 764.02 L859.0 764.27 L860.0 764.49 L861.0 764.69 L862.0 764.86 L863.0 765.00 L864.0 765.14 L865.0 765.27 L866.0 765.39 L867.0 765.52 L868.0 765.65 L869.0 765.80 L870.0 765.99 L871.0 766.22 L872.0 766.50 L873.0 766.84 L874.0 767.24 L875.0 767.69 L876.0 768.18 L877.0 768.72 L878.0 769.27 L879.0 769.81 L880.0 770.31 L881.0 770.75 L882.0 771.11 L883.0 771.40 L884.0 771.61 L885.0 771.73 L886.0 771.79 L887.0 771.78 L888.0 771.72 L889.0 771.62 L890.0 771.50 L891.0 771.36 L892.0 771.21 L893.0 771.05 L894.0 770.87 L895.0 770.68 L896.0 770.48 L897.0 770.25 L898.0 770.01 L899.0 769.75 L900.0 769.48 L901.0 769.18 L902.0 768.88 L903.0 768.55 L904.0 768.21 L905.0 767.85 L906.0 767.48 L907.0 767.10 L908.0 766.70 L909.0 766.28 L910.0 765.83 L911.0 765.35 L912.0 764.83 L913.0 764.26 L914.0 763.65 L915.0 762.99 L916.0 762.29 L917.0 761.55 L918.0 760.77 L919.0 759.97 L920.0 759.16 L921.0 758.35 L922.0 757.53 L923.0 756.70 L924.0 755.88 L925.0 755.07 L926.0 754.25 L927.0 753.42 L928.0 752.59 L929.0 751.75 L930.0 750.91 L931.0 750.07 L932.0 749.22 L933.0 748.38 L934.0 747.53 L935.0 746.68 L936.0 745.81 L937.0 744.93 L938.0 744.04 L939.0 743.13 L940.0 742.21 L941.0 741.30 L942.0 740.38 L943.0 739.47 L944.0 738.59 L945.0 737.75 L946.0 736.97 L947.0 736.25 L948.0 735.58 L949.0 734.97 L950.0 734.42 L951.0 733.91 L952.0 733.44 L953.0 733.00 L954.0 732.60 L955.0 732.21 L956.0 731.85 L957.0 731.51 L958.0 731.20 L959.0 730.93 L960.0 730.69 L961.0 730.50 L962.0 730.37 L963.0 730.32 L964.0 730.37 L965.0 730.51 L966.0 730.75 L967.0 731.07 L968.0 731.48 L969.0 731.94 L970.0 732.43 L971.0 732.90 L972.0 733.34 L973.0 733.72 L974.0 734.04 L975.0 734.28 L976.0 734.46 L977.0 734.58 L978.0 734.65 L979.0 734.69 L980.0 734.73 L981.0 734.76 L982.0 734.79 L983.0 734.83 L984.0 734.88 L985.0 734.97 L986.0 735.13 L987.0 735.36 L988.0 735.68 L989.0 736.09 L990.0 736.59 L991.0 737.18 L992.0 737.86 L993.0 738.59 L994.0 739.35 L995.0 740.10 L996.0 740.79 L997.0 741.42 L998.0 741.98 L999.0 742.46 L1000.0 742.85 L1001.0 743.15 L1002.0 743.36 L1003.0 743.51 L1004.0 743.61 L1005.0 743.68 L1006.0 743.72 L1007.0 743.74 L1008.0 743.75 L1009.0 743.75 L1010.0 743.75 L1011.0 743.74 L1012.0 743.71 L1013.0 743.65 L1014.0 743.54 L1015.0 743.38 L1016.0 743.16 L1017.0 742.86 L1018.0 742.50 L1019.0 742.06 L1020.0 741.56 L1021.0 741.00 L1022.0 740.40 L1023.0 739.78 L1024.0 739.14 L1025.0 738.47 L1026.0 737.79 L1027.0 737.08 L1028.0 736.35 L1029.0 735.60 L1030.0 734.83 L1031.0 734.04 L1032.0 733.22 L1033.0 732.38 L1034.0 731.54 L1035.0 730.72 L1036.0 729.91 L1037.0 729.11 L1038.0 728.35 L1039.0 727.61 L1040.0 726.89 L1041.0 726.20 L1042.0 725.53 L1043.0 724.88 L1044.0 724.25 L1045.0 723.63 L1046.0 723.04 L1047.0 722.45 L1048.0 721.89 L1049.0 721.35 L1050.0 720.83 L1051.0 720.34 L1052.0 719.87 L1053.0 719.42 L1054.0 719.00 L1055.0 718.59 L1056.0 718.21 L1057.0 717.83 L1058.0 717.45 L1059.0 717.07 L1060.0 716.68 L1061.0 716.26 L1062.0 715.81 L1063.0 715.32 L1064.0 714.78 L1065.0 714.19 L1066.0 713.55 L1067.0 712.88 L1068.0 712.18 L1069.0 711.46 L1070.0 710.74 L1071.0 710.05 L1072.0 709.38 L1073.0 708.75 L1074.0 708.16 L1075.0 707.61 L1076.0 707.10 L1077.0 706.63 L1078.0 706.20 L1079.0 705.82 L1080.0 705.49 L1081.0 705.21 L1082.0 705.01 L1083.0 704.89 L1084.0 704.85 L1085.0 704.90 L1086.0 705.03 L1087.0 705.25 L1088.0 705.57 L1089.0 706.00 L1090.0 706.55 L1091.0 707.21 L1092.0 707.98 L1093.0 708.84 L1094.0 709.77 L1095.0 710.76 L1096.0 711.77 L1097.0 712.76 L1098.0 713.72 L1099.0 714.62 L1100.0 715.45 L1101.0 716.20 L1102.0 716.88 L1103.0 717.50 L1104.0 718.09 L1105.0 718.66 L1106.0 719.23 L1107.0 719.80 L1108.0 720.38 L1109.0 720.99 L1110.0 721.62 L1111.0 722.29 L1112.0 722.98 L1113.0 723.72 L1114.0 724.48 L1115.0 725.28 L1116.0 726.11 L1117.0 726.97 L1118.0 727.86 L1119.0 728.78 L1120.0 729.74 L1121.0 730.72 L1122.0 731.75 L1123.0 732.83 L1124.0 733.97 L1125.0 735.16 L1126.0 736.40 L1127.0 737.70 L1128.0 739.05 L1129.0 740.45 L1130.0 741.88 L1131.0 743.34 L1132.0 744.79 L1133.0 746.24 L1134.0 747.67 L1135.0 749.09 L1136.0 750.48 L1137.0 751.86 L1138.0 753.22 L1139.0 754.55 L1140.0 755.87 L1141.0 757.16 L1142.0 758.43 L1143.0 759.68 L1144.0 760.88 L1145.0 762.03 L1146.0 763.13 L1147.0 764.16 L1148.0 765.13 L1149.0 766.04 L1150.0 766.90 L1151.0 767.70 L1152.0 768.44 L1153.0 769.14 L1154.0 769.79 L1155.0 770.40 L1156.0 770.95 L1157.0 771.45 L1158.0 771.90 L1159.0 772.30 L1160.0 772.64 L1161.0 772.95 L1162.0 773.22 L1163.0 773.46 L1164.0 773.70 L1165.0 773.94 L1166.0 774.21 L1167.0 774.54 L1168.0 774.94 L1169.0 775.44 L1170.0 776.04 L1171.0 776.77 L1172.0 777.62 L1173.0 778.59 L1174.0 779.53 L1175.0 780.40 L1176.0 781.20 L1177.0 781.90" stroke="#f5d33a" stroke-width="1" fill="none"/>
<path d="M11.0 748.8 L14.2 762.5 L18.0 758.0 L25.5 759.5 L28.5 784.5 L33.0 787.5 L37.2 793.0 L39.8 755.5 L43.5 768.8 L46.8 762.5 L50.5 750.5 L54.2 753.8 L58.0 751.2 L61.8 755.0 L66.8 756.2 L71.8 754.5 L76.8 748.8 L80.5 752.5 L85.0 753.8 L88.0 718.8 L91.8 713.8 L96.0 718.0 L103.0 710.0 L107.5 716.2 L113.0 715.0 L118.0 716.2 L123.0 707.0 L126.8 708.0 L130.5 711.2 L134.2 716.2 L138.0 713.8 L144.2 716.2 L147.2 656.2 L150.5 650.0 L155.5 637.5 L158.0 647.5 L161.8 653.8 L166.0 645.5 L169.2 658.8 L173.0 668.8 L178.0 673.8 L181.8 682.5 L186.0 680.0 L189.2 678.8 L193.0 678.8 L199.2 667.0 L203.8 694.5 L208.0 693.8 L214.2 690.0 L219.2 677.5 L221.8 680.0 L228.0 708.8 L231.8 710.0 L235.5 708.0 L239.2 698.8 L243.0 701.2 L246.8 698.8 L251.0 736.2 L255.5 725.0 L259.2 718.8 L262.5 720.5 L265.5 692.5 L269.2 683.0 L273.0 691.2 L276.8 712.5 L283.0 727.5 L286.8 729.5 L290.5 727.5 L294.2 729.5 L298.0 732.0 L301.8 730.5 L306.8 745.0 L313.0 771.2 L318.0 738.8 L321.8 734.5 L325.5 737.5 L329.2 737.0 L334.2 735.0 L339.2 722.5 L343.8 726.2 L347.0 738.8 L350.0 711.2 L353.8 709.5 L358.0 723.8 L361.2 721.2 L365.0 714.5 L369.5 718.0 L373.8 700.0 L379.5 672.5 L383.0 672.0 L387.5 675.0 L393.8 668.8 L401.2 646.2 L406.2 640.0 L412.5 635.5 L418.0 630.5 L421.2 632.0 L424.5 635.0 L428.0 659.5 L432.0 654.5 L437.5 653.8 L441.2 646.2 L445.0 660.5 L448.8 662.0 L453.8 661.2 L457.5 690.0 L462.0 720.0 L465.0 730.0 L472.5 697.0 L476.2 710.0 L480.0 697.5 L483.8 686.2 L490.0 667.5 L493.8 668.8 L498.0 672.5 L501.2 655.0 L505.0 650.5 L510.0 675.0 L513.8 686.2 L518.8 685.0 L522.5 700.0 L527.0 723.0 L531.2 705.5 L535.0 714.5 L538.8 685.0 L542.5 687.5 L546.2 688.8 L549.2 717.0 L553.0 707.0 L557.0 712.5 L560.0 712.5 L564.5 722.5 L568.8 722.0 L572.5 720.5 L576.2 727.0 L580.0 725.0 L583.0 716.2 L586.2 728.0 L590.0 728.8 L593.8 730.8 L597.5 728.0 L602.5 727.5 L606.2 727.0 L611.2 711.2 L616.2 692.0 L620.0 697.0 L625.0 708.8 L630.0 716.2 L635.0 708.8 L638.8 709.5 L642.5 723.8 L646.2 723.0 L650.0 727.0 L653.8 752.5 L658.8 756.2 L661.2 757.5 L665.0 778.8 L668.0 757.5 L672.0 758.8 L676.2 742.5 L678.2 736.2 L682.0 742.5 L685.8 722.5 L690.8 708.8 L694.5 707.5 L698.2 710.0 L702.0 706.2 L704.0 693.8 L708.2 720.0 L712.0 713.8 L715.8 732.5 L719.5 765.0 L723.2 768.8 L729.5 731.2 L735.8 741.2 L740.8 750.0 L745.0 754.5 L752.0 741.2 L757.0 745.0 L763.2 753.8 L769.5 743.8 L774.0 738.8 L778.2 720.0 L782.0 724.5 L788.2 741.2 L793.2 750.0 L798.2 743.8 L804.5 738.8 L808.2 755.0 L811.5 781.2 L815.8 766.2 L819.5 772.0 L822.5 760.0 L825.8 761.2 L829.5 744.5 L833.2 746.2 L837.0 755.5 L842.0 756.2 L848.2 773.8 L852.5 768.0 L859.0 776.2 L863.2 765.0 L867.0 769.5 L870.8 782.0 L875.8 786.2 L879.5 784.5 L883.2 772.5 L886.5 760.0 L889.5 759.5 L893.2 751.2 L899.5 750.0 L903.2 753.8 L908.2 752.5 L911.5 772.0 L918.2 722.5 L922.0 728.8 L927.0 739.5 L933.2 734.5 L937.0 728.8 L940.8 707.0 L944.5 707.5 L948.2 717.5 L952.0 734.5 L957.0 732.5 L963.2 746.2 L965.8 747.5 L970.8 760.0 L975.0 760.0 L977.5 738.8 L982.0 738.8 L988.2 734.5 L994.5 742.5 L999.5 748.8 L1004.0 742.5 L1005.8 741.2 L1007.8 740.5 L1011.5 741.2 L1015.2 742.5 L1017.8 735.0 L1021.5 734.5 L1024.0 730.0 L1028.5 705.0 L1032.8 703.8 L1035.2 701.2 L1040.2 690.0 L1044.0 680.5 L1048.5 715.0 L1051.5 721.2 L1055.2 725.0 L1059.0 725.0 L1062.0 718.8 L1066.0 723.8 L1070.2 688.8 L1072.8 686.2 L1079.0 695.5 L1084.0 697.5 L1088.5 702.5 L1092.8 725.0 L1096.0 758.8 L1099.5 752.0 L1104.0 754.5 L1110.2 755.0 L1114.0 771.2 L1117.8 750.0 L1121.5 734.5 L1126.0 737.5 L1130.2 758.8 L1134.0 775.0 L1140.2 797.5 L1143.5 786.2 L1147.8 791.2 L1151.5 796.2 L1154.0 808.8 L1158.5 778.8 L1162.8 776.2 L1169.0 773.8 L1173.2 779.5 L1177.8 785.0" stroke="#7e57c2" stroke-width="3" fill="none" stroke-linejoin="round"/>
</g>
<text x="18.2" y="45.5" font-size="12" fill="#131722" textLength="191.8" lengthAdjust="spacingAndGlyphs">Ethereum / TetherUS · 1D · Binance</text>
<text x="218.1" y="45.5" font-size="12" fill="#131722" textLength="7" lengthAdjust="spacingAndGlyphs">O</text>
<text x="225.5" y="45.5" font-size="12" fill="#ef5350" textLength="46.3" lengthAdjust="spacingAndGlyphs">2,022.67</text>
<text x="279.8" y="45.5" font-size="12" fill="#131722" textLength="7.5" lengthAdjust="spacingAndGlyphs">H</text>
<text x="287.7" y="45.5" font-size="12" fill="#ef5350" textLength="45.3" lengthAdjust="spacingAndGlyphs">2,032.31</text>
<text x="341.5" y="45.5" font-size="12" fill="#131722" textLength="5.8" lengthAdjust="spacingAndGlyphs">L</text>
<text x="347.6" y="45.5" font-size="12" fill="#ef5350" textLength="46" lengthAdjust="spacingAndGlyphs">1,903.19</text>
<text x="402" y="45.5" font-size="12" fill="#131722" textLength="6.6" lengthAdjust="spacingAndGlyphs">C</text>
<text x="408.7" y="45.5" font-size="12" fill="#ef5350" textLength="46" lengthAdjust="spacingAndGlyphs">1,929.67</text>
<text x="463.2" y="45.5" font-size="12" fill="#ef5350" textLength="83.8" lengthAdjust="spacingAndGlyphs">−93.00 (−4.60%)</text>
<text x="18.2" y="62.5" font-size="12" fill="#131722" textLength="80.5" lengthAdjust="spacingAndGlyphs">EMA (20, close)</text>
<text x="107.9" y="62.5" font-size="12" fill="#2962ff" textLength="46.1" lengthAdjust="spacingAndGlyphs">2,364.35</text>
<text x="18.2" y="79.5" font-size="12" fill="#131722" textLength="80.5" lengthAdjust="spacingAndGlyphs">SMA (50, close)</text>
<text x="107.5" y="79.5" font-size="12" fill="#f23645" textLength="46.1" lengthAdjust="spacingAndGlyphs">2,838.20</text>
<text x="18" y="640" font-size="12" fill="#131722" textLength="75.5" lengthAdjust="spacingAndGlyphs">RSI (14, close)</text>
<text x="102.5" y="640" font-size="12" fill="#7e57c2" textLength="28" lengthAdjust="spacingAndGlyphs">28.13</text>
<text x="138.5" y="640" font-size="12" fill="#e9c21a" textLength="29.5" lengthAdjust="spacingAndGlyphs">28.58</text>
<rect x="1282.5" y="31.5" width="56.5" height="24.5" rx="4" fill="#fff" stroke="#ececec"/>
<text x="1291.6" y="48.8" font-size="12.2" fill="#131722" textLength="27.2" lengthAdjust="spacingAndGlyphs" stroke="#131722" stroke-width="0.12">USDT</text>
<text x="1287.2" y="612.9" font-size="12.2" fill="#131722" textLength="46" lengthAdjust="spacingAndGlyphs" stroke="#131722" stroke-width="0.15">1,250.00</text>
<text x="1287.2" y="575.9" font-size="12.2" fill="#131722" textLength="46" lengthAdjust="spacingAndGlyphs" stroke="#131722" stroke-width="0.15">1,500.00</text>
<text x="1287.2" y="538.9" font-size="12.2" fill="#131722" textLength="46" lengthAdjust="spacingAndGlyphs" stroke="#131722" stroke-width="0.15">1,750.00</text>
<text x="1287.2" y="501.9" font-size="12.2" fill="#131722" textLength="46" lengthAdjust="spacingAndGlyphs" stroke="#131722" stroke-width="0.15">2,000.00</text>
<text x="1287.2" y="463.9" font-size="12.2" fill="#131722" textLength="46" lengthAdjust="spacingAndGlyphs" stroke="#131722" stroke-width="0.15">2,250.00</text>
<text x="1287.2" y="426.9" font-size="12.2" fill="#131722" textLength="46" lengthAdjust="spacingAndGlyphs" stroke="#131722" stroke-width="0.15">2,500.00</text>
<text x="1287.2" y="389.9" font-size="12.2" fill="#131722" textLength="46" lengthAdjust="spacingAndGlyphs" stroke="#131722" stroke-width="0.15">2,750.00</text>
<text x="1287.2" y="351.9" font-size="12.2" fill="#131722" textLength="46" lengthAdjust="spacingAndGlyphs" stroke="#131722" stroke-width="0.15">3,000.00</text>
<text x="1287.2" y="314.9" font-size="12.2" fill="#131722" textLength="46" lengthAdjust="spacingAndGlyphs" stroke="#131722" stroke-width="0.15">3,250.00</text>
<text x="1287.2" y="277.9" font-size="12.2" fill="#131722" textLength="46" lengthAdjust="spacingAndGlyphs" stroke="#131722" stroke-width="0.15">3,500.00</text>
<text x="1287.2" y="240.9" font-size="12.2" fill="#131722" textLength="46" lengthAdjust="spacingAndGlyphs" stroke="#131722" stroke-width="0.15">3,750.00</text>
<text x="1287.2" y="202.9" font-size="12.2" fill="#131722" textLength="46" lengthAdjust="spacingAndGlyphs" stroke="#131722" stroke-width="0.15">4,000.00</text>
<text x="1287.2" y="165.9" font-size="12.2" fill="#131722" textLength="46" lengthAdjust="spacingAndGlyphs" stroke="#131722" stroke-width="0.15">4,250.00</text>
<text x="1287.2" y="128.9" font-size="12.2" fill="#131722" textLength="46" lengthAdjust="spacingAndGlyphs" stroke="#131722" stroke-width="0.15">4,500.00</text>
<text x="1287.2" y="90.9" font-size="12.2" fill="#131722" textLength="46" lengthAdjust="spacingAndGlyphs" stroke="#131722" stroke-width="0.15">4,750.00</text>
<text x="1287.2" y="654.9" font-size="12.2" fill="#131722" textLength="29" lengthAdjust="spacingAndGlyphs" stroke="#131722" stroke-width="0.15">80.00</text>
<text x="1287.2" y="706.9" font-size="12.2" fill="#131722" textLength="29" lengthAdjust="spacingAndGlyphs" stroke="#131722" stroke-width="0.15">60.00</text>
<text x="1287.2" y="758.9" font-size="12.2" fill="#131722" textLength="29" lengthAdjust="spacingAndGlyphs" stroke="#131722" stroke-width="0.15">40.00</text>
<text x="1287.2" y="810.9" font-size="12.2" fill="#131722" textLength="29" lengthAdjust="spacingAndGlyphs" stroke="#131722" stroke-width="0.15">20.00</text>
<path d="M1279 62H1337a2 2 0 0 1 2 2V77a2 2 0 0 1 -2 2H1279a0 0 0 0 1 -0 -0V62a0 0 0 0 1 0 -0Z" fill="#0000ee"/>
<text x="1287.4" y="74.1" font-size="12.2" fill="#fff" textLength="45.6" lengthAdjust="spacingAndGlyphs" stroke="#fff" stroke-width="0.2">4,868.00</text>
<path d="M1279 473H1337a2 2 0 0 1 2 2V488a2 2 0 0 1 -2 2H1279a0 0 0 0 1 -0 -0V473a0 0 0 0 1 0 -0Z" fill="#0000ee"/>
<text x="1287.4" y="485.1" font-size="12.2" fill="#fff" textLength="45.6" lengthAdjust="spacingAndGlyphs" stroke="#fff" stroke-width="0.2">2,111.00</text>
<path d="M1279 545H1337a2 2 0 0 1 2 2V560a2 2 0 0 1 -2 2H1279a0 0 0 0 1 -0 -0V545a0 0 0 0 1 0 -0Z" fill="#0000ee"/>
<text x="1287.4" y="557.1" font-size="12.2" fill="#fff" textLength="45.6" lengthAdjust="spacingAndGlyphs" stroke="#fff" stroke-width="0.2">1,750.00</text>
<path d="M1230 365H1278a0 0 0 0 1 0 0V381.5a0 0 0 0 1 -0 0H1230a2 2 0 0 1 -2 -2V367a2 2 0 0 1 2 -2Z" fill="#f23645"/>
<text x="1232.8" y="377.3" font-size="12.2" fill="#fff" textLength="41.7" lengthAdjust="spacingAndGlyphs" stroke="#fff" stroke-width="0.25">SMA:MA</text>
<path d="M1279 365H1337a2 2 0 0 1 2 2V379.5a2 2 0 0 1 -2 2H1279a0 0 0 0 1 -0 -0V365a0 0 0 0 1 0 -0Z" fill="#f23645"/>
<text x="1287.4" y="377.1" font-size="12.2" fill="#fff" textLength="45.6" lengthAdjust="spacingAndGlyphs" stroke="#fff" stroke-width="0.2">2,838.20</text>
<path d="M1249.2 435.3H1278a0 0 0 0 1 0 0V451.8a0 0 0 0 1 -0 0H1249.2a2 2 0 0 1 -2 -2V437.3a2 2 0 0 1 2 -2Z" fill="#2962ff"/>
<text x="1251.9" y="447.6" font-size="12.2" fill="#fff" textLength="22.4" lengthAdjust="spacingAndGlyphs" stroke="#fff" stroke-width="0.25">EMA</text>
<path d="M1279 435.3H1337a2 2 0 0 1 2 2V449.8a2 2 0 0 1 -2 2H1279a0 0 0 0 1 -0 -0V435.3a0 0 0 0 1 0 -0Z" fill="#2962ff"/>
<text x="1287.4" y="447.4" font-size="12.2" fill="#fff" textLength="45.6" lengthAdjust="spacingAndGlyphs" stroke="#fff" stroke-width="0.2">2,364.35</text>
<path d="M1222.2 500.5H1278a0 0 0 0 1 0 0V516.8a0 0 0 0 1 -0 0H1222.2a2 2 0 0 1 -2 -2V502.5a2 2 0 0 1 2 -2Z" fill="#ef5350"/>
<text x="1225.3" y="512.8" font-size="12.2" fill="#fff" textLength="47.5" lengthAdjust="spacingAndGlyphs" stroke="#fff" stroke-width="0.25">ETHUSDT</text>
<path d="M1279 500.3H1337a2 2 0 0 1 2 2V542.3a2 2 0 0 1 -2 2H1279a0 0 0 0 1 -0 -0V500.3a0 0 0 0 1 0 -0Z" fill="#ef5350"/>
<text x="1287.4" y="511.5" font-size="12.2" fill="#fff" textLength="45.6" lengthAdjust="spacingAndGlyphs" stroke="#fff" stroke-width="0.2">1,929.67</text>
<text x="1287.4" y="525.6" font-size="12.2" fill="#fff" textLength="36.3" lengthAdjust="spacingAndGlyphs" stroke="#fff" stroke-width="0.2">+5.88%</text>
<text x="1287.4" y="539.7" font-size="12.2" fill="#fcd3d3" textLength="45.6" lengthAdjust="spacingAndGlyphs" stroke="#fcd3d3" stroke-width="0.2">08:20:09</text>
<path d="M1201 760.5H1278a0 0 0 0 1 0 0V777a0 0 0 0 1 -0 0H1201a2 2 0 0 1 -2 -2V762.5a2 2 0 0 1 2 -2Z" fill="#f9d43a"/>
<text x="1203.6" y="772.8" font-size="12.2" fill="#131722" textLength="70.6" lengthAdjust="spacingAndGlyphs" stroke="#131722" stroke-width="0.15">RSI-based MA</text>
<path d="M1279 760.5H1320a2 2 0 0 1 2 2V775a2 2 0 0 1 -2 2H1279a0 0 0 0 1 -0 -0V760.5a0 0 0 0 1 0 -0Z" fill="#f9d43a"/>
<text x="1287.7" y="772.8" font-size="12.2" fill="#131722" textLength="28.3" lengthAdjust="spacingAndGlyphs" stroke="#131722" stroke-width="0.15">28.58</text>
<path d="M1255.5 777.5H1278a0 0 0 0 1 0 0V794a0 0 0 0 1 -0 0H1255.5a2 2 0 0 1 -2 -2V779.5a2 2 0 0 1 2 -2Z" fill="#7e57c2"/>
<text x="1258.5" y="789.6" font-size="12.2" fill="#fff" textLength="15.5" lengthAdjust="spacingAndGlyphs" stroke="#fff" stroke-width="0.25">RSI</text>
<path d="M1279 777.5H1320a2 2 0 0 1 2 2V792a2 2 0 0 1 -2 2H1279a0 0 0 0 1 -0 -0V777.5a0 0 0 0 1 0 -0Z" fill="#7e57c2"/>
<text x="1287.7" y="789.6" font-size="12.2" fill="#fff" textLength="28.3" lengthAdjust="spacingAndGlyphs" stroke="#fff" stroke-width="0.2">28.13</text>
<text x="122.5" y="838" font-size="12" fill="#131722" text-anchor="middle">May</text>
<text x="236.5" y="838" font-size="12" fill="#131722" text-anchor="middle">Jun</text>
<text x="347.5" y="838" font-size="12" fill="#131722" text-anchor="middle">Jul</text>
<text x="461.5" y="838" font-size="12" fill="#131722" text-anchor="middle">Aug</text>
<text x="575.5" y="838" font-size="12" fill="#131722" text-anchor="middle">Sep</text>
<text x="686.5" y="838" font-size="12" fill="#131722" text-anchor="middle">Oct</text>
<text x="800.5" y="838" font-size="12" fill="#131722" text-anchor="middle">Nov</text>
<text x="911.5" y="838" font-size="12" fill="#131722" text-anchor="middle">Dec</text>
<text x="1025.5" y="838" font-size="12" fill="#131722" text-anchor="middle" font-weight="bold">2026</text>
<text x="1140.5" y="838" font-size="12" fill="#131722" text-anchor="middle">Feb</text>
<text x="1243.5" y="838" font-size="12" fill="#131722" text-anchor="middle">Mar</text>
<text x="11.5" y="838" font-size="12" fill="#131722" text-anchor="middle" clip-path="url(#cax)">Apr</text>
<path d="M1186.34 604.5A9.4 9.4 0 1 1 1180.3 598.46" fill="none" stroke="#7b1fa2" stroke-width="1.5" stroke-linecap="round"/>
<path d="M1180.2 601.8L1173.4 608.3H1177.3L1173.9 613.2L1181.3 606.5H1177.3Z" fill="#7b1fa2"/>
<circle cx="1184.3" cy="600.4" r="2.5" fill="#f23645"/>
<g fill="#131313"><path d="M12 870.1H23.8V884.7H18V875.8H12Z"/><circle cx="28.85" cy="872.9" r="2.95"/><path d="M35 870.1H41.8L35.9 884.7H29.3Z"/></g>
<text x="49" y="884.6" font-size="20.3" font-weight="bold" fill="#131313" textLength="120.8" lengthAdjust="spacingAndGlyphs">TradingView</text>
</svg></body></html>
